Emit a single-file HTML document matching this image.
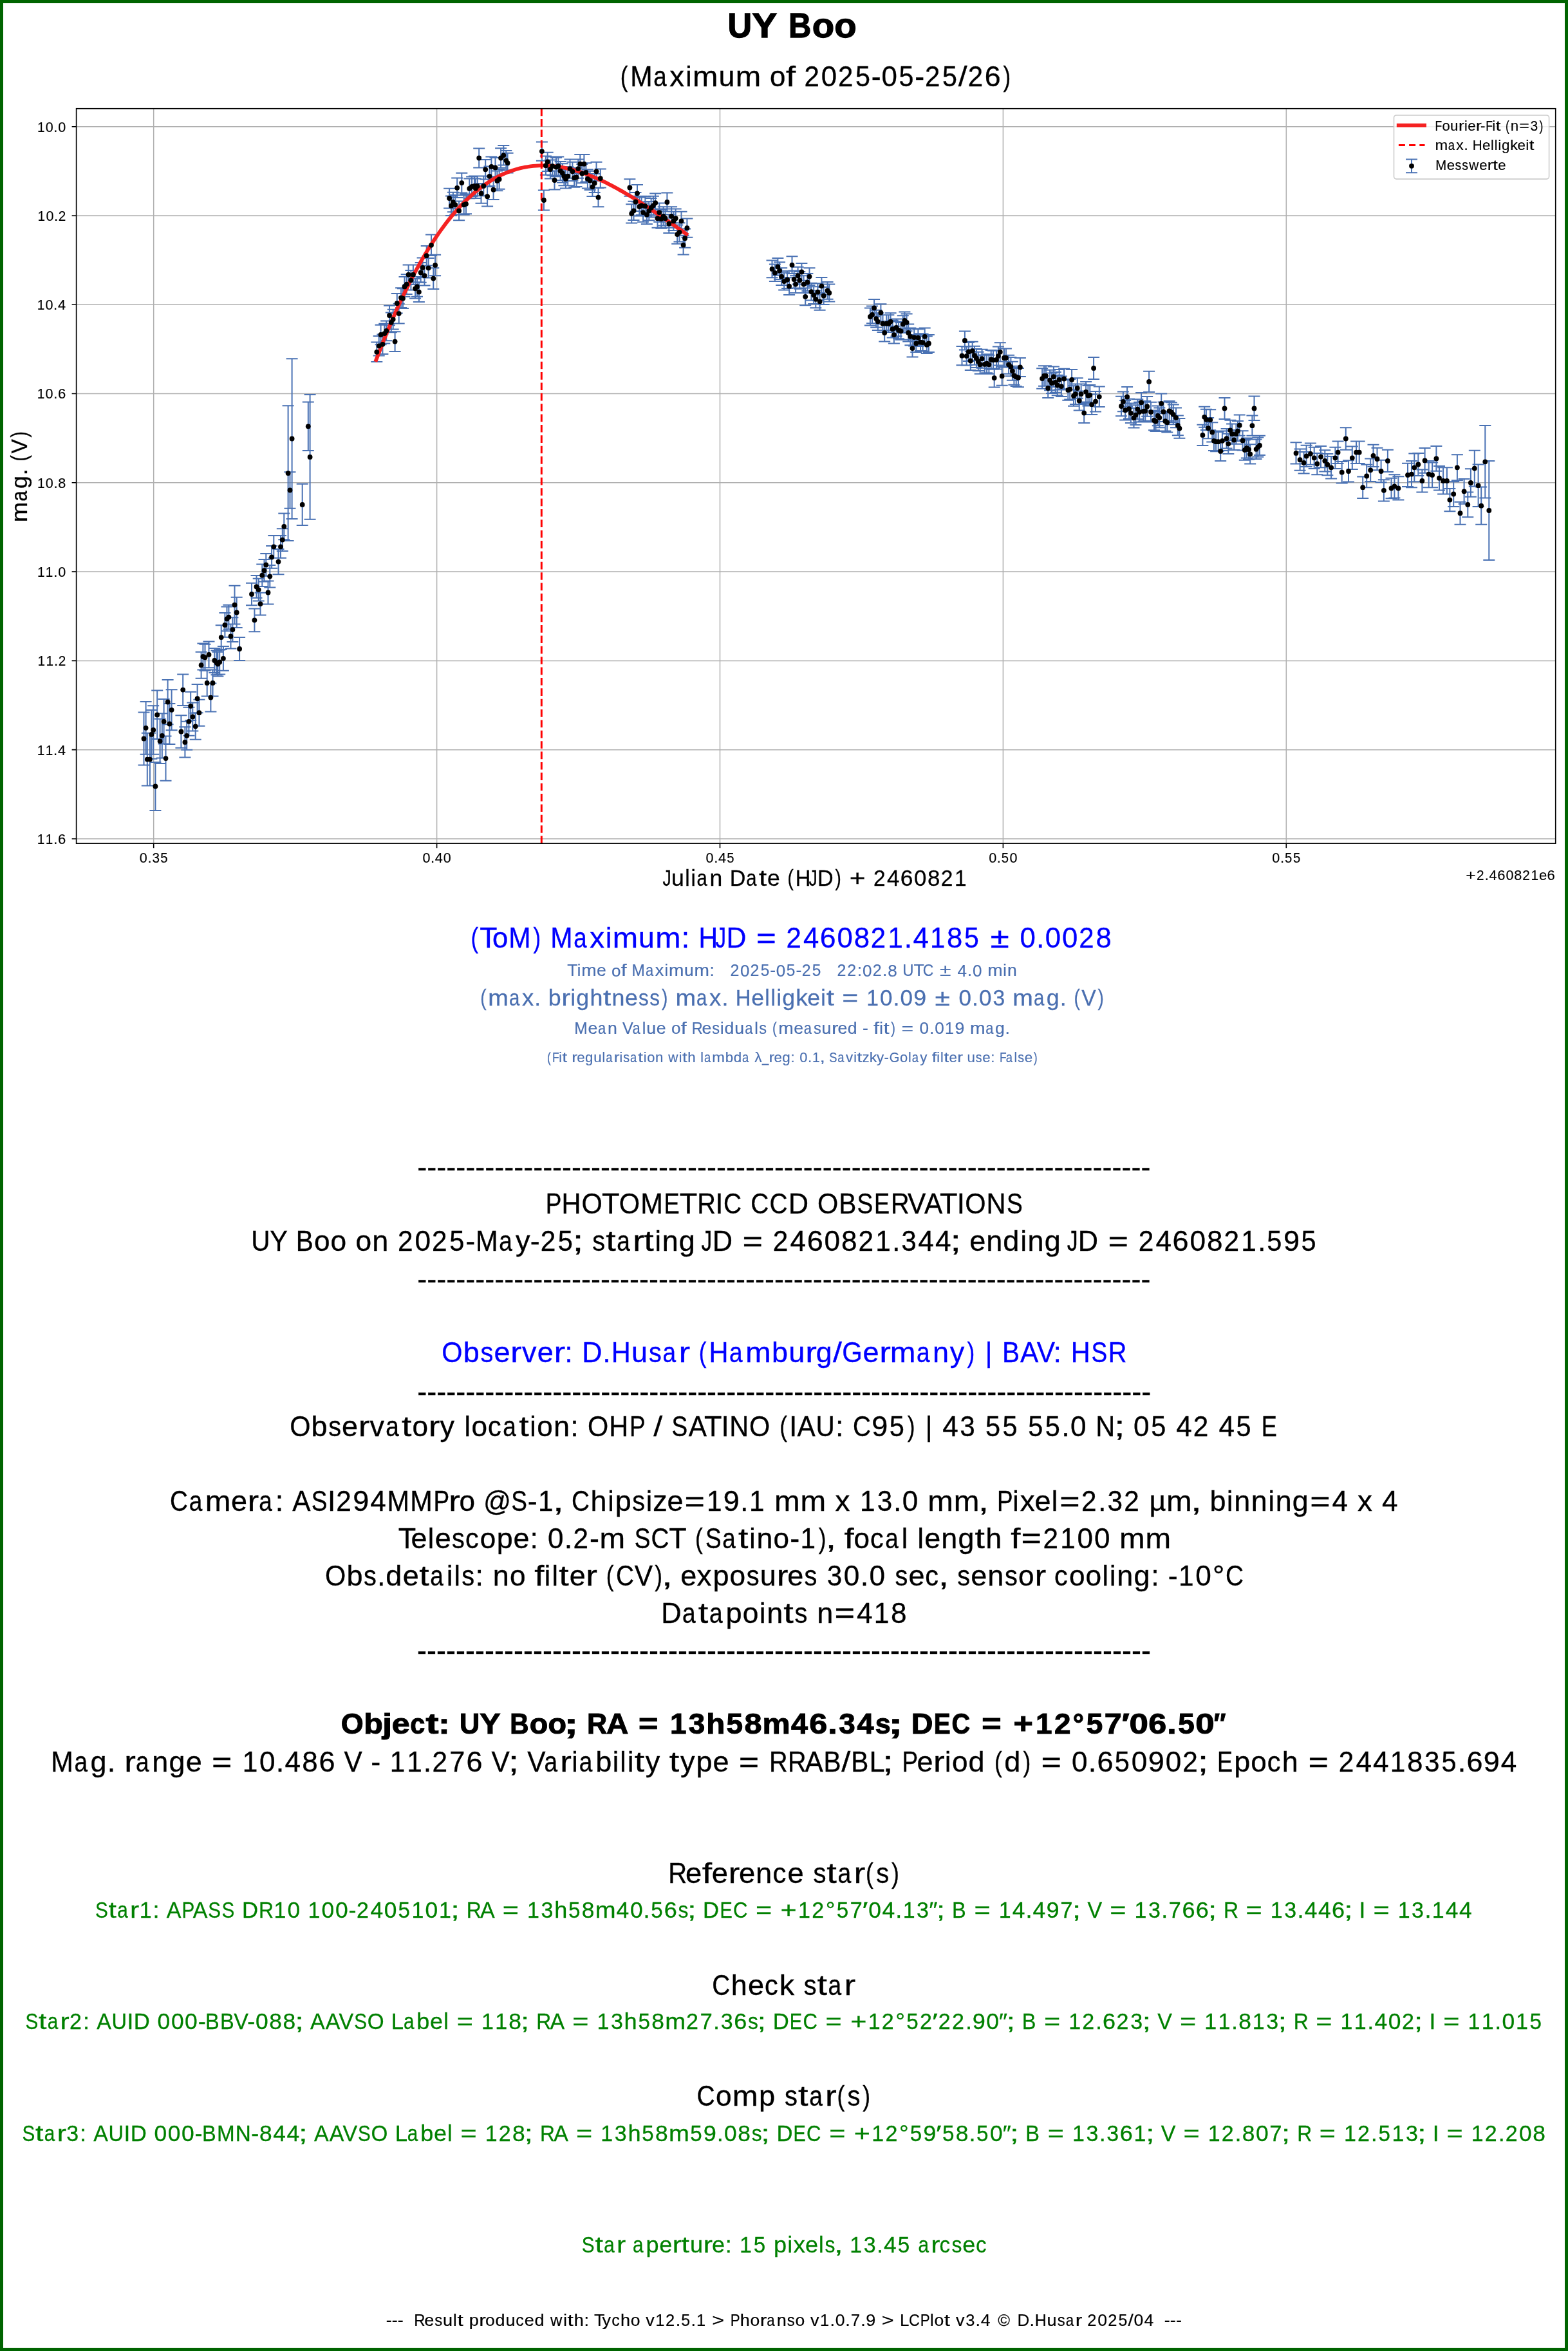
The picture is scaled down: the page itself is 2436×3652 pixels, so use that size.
<!DOCTYPE html><html><head><meta charset="utf-8"><style>html,body{margin:0;padding:0;background:#fff;width:2436px;height:3652px;overflow:hidden}svg{display:block;will-change:transform}text{font-family:"Liberation Sans",sans-serif;font-kerning:none;font-variant-ligatures:none}</style></head><body>
<svg width="2436" height="3652" viewBox="0 0 2436 3652">
<rect x="0" y="0" width="2436" height="3652" fill="#fff"/>
<path d="M238.70 168.70V1310.20M678.60 168.70V1310.20M1118.50 168.70V1310.20M1558.40 168.70V1310.20M1998.30 168.70V1310.20M118.60 196.70H2416.70M118.60 334.98H2416.70M118.60 473.26H2416.70M118.60 611.54H2416.70M118.60 749.82H2416.70M118.60 888.10H2416.70M118.60 1026.38H2416.70M118.60 1164.66H2416.70M118.60 1302.94H2416.70" stroke="#b0b0b0" stroke-width="1.5" fill="none"/>
<path d="M223.5 1106.6V1188.5M214.5 1106.6h18M214.5 1188.5h18M226.6 1089.9V1171.8M217.6 1089.9h18M217.6 1171.8h18M228.8 1138.7V1220.6M219.8 1138.7h18M219.8 1220.6h18M232.9 1138.7V1220.6M223.9 1138.7h18M223.9 1220.6h18M235.4 1103.1V1178.7M226.4 1103.1h18M226.4 1178.7h18M238.2 1096.2V1171.8M229.2 1096.2h18M229.2 1171.8h18M241.4 1184.0V1259.0M232.4 1184.0h18M232.4 1259.0h18M244.2 1072.6V1148.1M235.2 1072.6h18M235.2 1148.1h18M248.6 1116.7V1185.9M239.6 1116.7h18M239.6 1185.9h18M251.8 1108.2V1177.4M242.8 1108.2h18M242.8 1177.4h18M254.6 1086.1V1155.4M245.6 1086.1h18M245.6 1155.4h18M257.5 1143.4V1212.7M248.5 1143.4h18M248.5 1212.7h18M260.6 1055.9V1125.2M251.6 1055.9h18M251.6 1125.2h18M263.4 1093.0V1156.0M254.4 1093.0h18M254.4 1156.0h18M266.6 1071.3V1134.3M257.6 1071.3h18M257.6 1134.3h18M281.4 1111.3V1161.7M272.4 1111.3h18M272.4 1161.7h18M284.2 1047.4V1095.9M275.2 1047.4h18M275.2 1095.9h18M287.4 1129.3V1176.5M278.4 1129.3h18M278.4 1176.5h18M290.2 1120.8V1164.8M281.2 1120.8h18M281.2 1164.8h18M293.4 1098.7V1142.8M284.4 1098.7h18M284.4 1142.8h18M296.2 1074.8V1118.9M287.2 1074.8h18M287.2 1118.9h18M299.3 1091.5V1135.6M290.3 1091.5h18M290.3 1135.6h18M303.7 1107.8V1148.8M294.7 1107.8h18M294.7 1148.8h18M306.6 1063.1V1107.2M297.6 1063.1h18M297.6 1107.2h18M309.4 1086.8V1127.7M300.4 1086.8h18M300.4 1127.7h18M312.6 1012.8V1053.7M303.6 1012.8h18M303.6 1053.7h18M315.4 999.5V1040.5M306.4 999.5h18M306.4 1040.5h18M318.5 1000.8V1041.7M309.5 1000.8h18M309.5 1041.7h18M321.7 1040.5V1081.4M312.7 1040.5h18M312.7 1081.4h18M324.5 996.4V1037.3M315.5 996.4h18M315.5 1037.3h18M327.4 1061.6V1105.6M318.4 1061.6h18M318.4 1105.6h18M330.5 1040.5V1081.4M321.5 1040.5h18M321.5 1081.4h18M333.3 1007.1V1044.9M324.3 1007.1h18M324.3 1044.9h18M336.5 1010.6V1048.3M327.5 1010.6h18M327.5 1048.3h18M338.4 1012.8V1050.5M329.4 1012.8h18M329.4 1050.5h18M341.2 1009.6V1047.4M332.2 1009.6h18M332.2 1047.4h18M343.7 971.2V1009.0M334.7 971.2h18M334.7 1009.0h18M346.9 1003.9V1041.7M337.9 1003.9h18M337.9 1041.7h18M349.4 952.0V989.8M340.4 952.0h18M340.4 989.8h18M352.5 942.5V980.3M343.5 942.5h18M343.5 980.3h18M355.4 939.7V977.5M346.4 939.7h18M346.4 977.5h18M358.5 969.6V1007.4M349.5 969.6h18M349.5 1007.4h18M361.4 959.2V997.0M352.4 959.2h18M352.4 997.0h18M364.5 909.8V969.6M355.5 909.8h18M355.5 969.6h18M367.7 927.7V975.0M358.7 927.7h18M358.7 975.0h18M372.1 990.1V1026.0M363.1 990.1h18M363.1 1026.0h18M391.0 905.7V940.3M382.0 905.7h18M382.0 940.3h18M395.4 945.4V981.3M386.4 945.4h18M386.4 981.3h18M398.5 894.1V928.7M389.5 894.1h18M389.5 928.7h18M401.7 898.8V933.4M392.7 898.8h18M392.7 933.4h18M404.5 920.8V955.5M395.5 920.8h18M395.5 955.5h18M407.3 876.4V911.1M398.3 876.4h18M398.3 911.1h18M410.5 868.9V903.5M401.5 868.9h18M401.5 903.5h18M413.3 860.1V894.7M404.3 860.1h18M404.3 894.7h18M416.5 902.6V938.5M407.5 902.6h18M407.5 938.5h18M419.3 878.0V912.6M410.3 878.0h18M410.3 912.6h18M422.1 848.1V882.7M413.1 848.1h18M413.1 882.7h18M425.3 832.0V866.7M416.3 832.0h18M416.3 866.7h18M432.5 853.1V892.2M423.5 853.1h18M423.5 892.2h18M436.0 832.0V866.7M427.0 832.0h18M427.0 866.7h18M438.8 821.3V856.0M429.8 821.3h18M429.8 856.0h18M441.3 797.4V838.3M432.3 797.4h18M432.3 838.3h18M447.6 630.2V839.9M438.6 630.2h18M438.6 839.9h18M450.5 733.2V789.8M441.5 733.2h18M441.5 789.8h18M453.6 557.2V805.9M444.6 557.2h18M444.6 805.9h18M469.7 751.7V816.0M460.7 751.7h18M460.7 816.0h18M478.8 624.5V700.1M469.8 624.5h18M469.8 700.1h18M481.6 612.9V806.8M472.6 612.9h18M472.6 806.8h18M585.3 531.5V562.1M576.3 531.5h18M576.3 562.1h18M588.7 521.9V552.6M579.7 521.9h18M579.7 552.6h18M594.4 519.5V550.1M585.4 519.5h18M585.4 550.1h18M591.6 504.7V535.3M582.6 504.7h18M582.6 535.3h18M597.3 502.8V533.4M588.3 502.8h18M588.3 533.4h18M600.2 498.6V529.2M591.2 498.6h18M591.2 529.2h18M607.8 485.6V516.2M598.8 485.6h18M598.8 516.2h18M610.7 480.8V511.4M601.7 480.8h18M601.7 511.4h18M605.0 474.7V505.3M596.0 474.7h18M596.0 505.3h18M613.6 515.3V545.9M604.6 515.3h18M604.6 545.9h18M619.7 471.8V502.4M610.7 471.8h18M610.7 502.4h18M616.8 455.9V486.6M607.8 455.9h18M607.8 486.6h18M623.1 447.3V477.9M614.1 447.3h18M614.1 477.9h18M626.0 448.3V478.9M617.0 448.3h18M617.0 478.9h18M628.5 430.1V460.7M619.5 430.1h18M619.5 460.7h18M631.7 426.3V456.9M622.7 426.3h18M622.7 456.9h18M638.4 420.0V450.6M629.4 420.0h18M629.4 450.6h18M634.6 411.4V442.0M625.6 411.4h18M625.6 442.0h18M641.9 411.4V442.0M632.9 411.4h18M632.9 442.0h18M645.1 433.0V463.6M636.1 433.0h18M636.1 463.6h18M648.0 430.1V460.7M639.0 430.1h18M639.0 460.7h18M650.9 438.3V469.0M641.9 438.3h18M641.9 469.0h18M653.7 408.1V438.7M644.7 408.1h18M644.7 438.7h18M656.6 400.5V431.1M647.6 400.5h18M647.6 431.1h18M659.5 412.9V443.5M650.5 412.9h18M650.5 443.5h18M662.7 381.9V412.5M653.7 381.9h18M653.7 412.5h18M665.6 401.0V431.6M656.6 401.0h18M656.6 431.6h18M670.0 364.5V397.0M661.0 364.5h18M661.0 397.0h18M673.3 416.3V448.9M664.3 416.3h18M664.3 448.9h18M676.1 395.7V428.2M667.1 395.7h18M667.1 428.2h18M698.1 292.7V323.4M689.1 292.7h18M689.1 323.4h18M701.0 304.4V335.0M692.0 304.4h18M692.0 335.0h18M703.9 298.7V329.3M694.9 298.7h18M694.9 329.3h18M707.3 302.9V333.5M698.3 302.9h18M698.3 333.5h18M710.2 276.5V307.1M701.2 276.5h18M701.2 307.1h18M713.1 312.4V342.3M704.1 312.4h18M704.1 342.3h18M717.3 268.8V299.4M708.3 268.8h18M708.3 299.4h18M720.7 302.9V333.5M711.7 302.9h18M711.7 333.5h18M724.0 301.5V332.2M715.0 301.5h18M715.0 332.2h18M729.3 277.6V308.2M720.3 277.6h18M720.3 308.2h18M733.1 274.6V305.2M724.1 274.6h18M724.1 305.2h18M737.0 273.6V304.2M728.0 273.6h18M728.0 304.2h18M738.9 277.4V308.0M729.9 277.4h18M729.9 308.0h18M741.8 273.6V304.2M732.8 273.6h18M732.8 304.2h18M744.2 230.6V260.4M735.2 230.6h18M735.2 260.4h18M747.5 285.1V315.7M738.5 285.1h18M738.5 315.7h18M751.3 273.6V304.2M742.3 273.6h18M742.3 304.2h18M754.2 248.0V278.6M745.2 248.0h18M745.2 278.6h18M757.1 289.9V320.5M748.1 289.9h18M748.1 320.5h18M760.5 258.5V289.1M751.5 258.5h18M751.5 289.1h18M763.4 243.6V274.2M754.4 243.6h18M754.4 274.2h18M766.6 279.3V310.0M757.6 279.3h18M757.6 310.0h18M769.5 245.1V275.7M760.5 245.1h18M760.5 275.7h18M772.4 265.6V296.2M763.4 265.6h18M763.4 296.2h18M775.6 263.1V293.7M766.6 263.1h18M766.6 293.7h18M778.1 230.2V260.8M769.1 230.2h18M769.1 260.8h18M782.3 226.0V256.6M773.3 226.0h18M773.3 256.6h18M786.3 234.0V264.6M777.3 234.0h18M777.3 264.6h18M788.6 237.8V268.4M779.6 237.8h18M779.6 268.4h18M841.9 220.5V249.7M832.9 220.5h18M832.9 249.7h18M844.9 295.5V326.6M835.9 295.5h18M835.9 326.6h18M847.9 242.6V271.7M838.9 242.6h18M838.9 271.7h18M850.7 236.8V265.9M841.7 236.8h18M841.7 265.9h18M854.9 248.4V277.6M845.9 248.4h18M845.9 277.6h18M858.2 243.4V272.6M849.2 243.4h18M849.2 272.6h18M861.5 265.4V294.6M852.5 265.4h18M852.5 294.6h18M864.0 245.1V274.2M855.0 245.1h18M855.0 274.2h18M867.3 243.4V272.6M858.3 243.4h18M858.3 272.6h18M870.6 250.9V280.0M861.6 250.9h18M861.6 280.0h18M873.9 254.2V283.4M864.9 254.2h18M864.9 283.4h18M876.4 259.1V288.3M867.4 259.1h18M867.4 288.3h18M878.9 263.3V292.5M869.9 263.3h18M869.9 292.5h18M882.2 259.1V288.3M873.2 259.1h18M873.2 288.3h18M885.5 247.5V276.7M876.5 247.5h18M876.5 276.7h18M889.4 251.7V280.9M880.4 251.7h18M880.4 280.9h18M892.2 261.6V290.8M883.2 261.6h18M883.2 290.8h18M895.5 260.8V290.0M886.5 260.8h18M886.5 290.0h18M898.3 247.5V276.7M889.3 247.5h18M889.3 276.7h18M901.3 240.1V269.3M892.3 240.1h18M892.3 269.3h18M904.3 255.0V284.2M895.3 255.0h18M895.3 284.2h18M907.4 240.1V269.3M898.4 240.1h18M898.4 269.3h18M910.4 253.3V282.5M901.4 253.3h18M901.4 282.5h18M912.9 263.3V292.5M903.9 263.3h18M903.9 292.5h18M916.6 265.8V295.0M907.6 265.8h18M907.6 295.0h18M920.4 275.7V304.9M911.4 275.7h18M911.4 304.9h18M923.7 269.9V299.1M914.7 269.9h18M914.7 299.1h18M926.5 251.7V280.9M917.5 251.7h18M917.5 280.9h18M929.5 292.0V321.2M920.5 292.0h18M920.5 321.2h18M932.8 262.5V291.6M923.8 262.5h18M923.8 291.6h18M978.4 278.2V304.7M969.4 278.2h18M969.4 304.7h18M990.0 287.0V313.5M981.0 287.0h18M981.0 313.5h18M981.2 317.2V346.4M972.2 317.2h18M972.2 346.4h18M984.5 312.7V341.9M975.5 312.7h18M975.5 341.9h18M987.5 298.9V328.1M978.5 298.9h18M978.5 328.1h18M993.3 306.4V335.6M984.3 306.4h18M984.3 335.6h18M996.6 304.7V333.9M987.6 304.7h18M987.6 333.9h18M1002.4 305.6V334.8M993.4 305.6h18M993.4 334.8h18M999.1 315.5V344.7M990.1 315.5h18M990.1 344.7h18M1004.9 318.8V348.0M995.9 318.8h18M995.9 348.0h18M1008.3 313.0V342.2M999.3 313.0h18M999.3 342.2h18M1011.6 308.1V337.2M1002.6 308.1h18M1002.6 337.2h18M1014.9 304.7V333.9M1005.9 304.7h18M1005.9 333.9h18M1018.2 300.6V329.8M1009.2 300.6h18M1009.2 329.8h18M1021.5 324.6V353.8M1012.5 324.6h18M1012.5 353.8h18M1024.3 315.5V344.7M1015.3 315.5h18M1015.3 344.7h18M1027.3 325.5V354.7M1018.3 325.5h18M1018.3 354.7h18M1030.6 321.3V350.5M1021.6 321.3h18M1021.6 350.5h18M1033.6 324.6V353.8M1024.6 324.6h18M1024.6 353.8h18M1036.4 299.4V328.6M1027.4 299.4h18M1027.4 328.6h18M1039.3 332.9V362.1M1030.3 332.9h18M1030.3 362.1h18M1043.1 321.3V350.5M1034.1 321.3h18M1034.1 350.5h18M1046.4 328.8V358.0M1037.4 328.8h18M1037.4 358.0h18M1049.7 324.6V353.8M1040.7 324.6h18M1040.7 353.8h18M1052.2 349.5V378.7M1043.2 349.5h18M1043.2 378.7h18M1055.5 346.2V375.4M1046.5 346.2h18M1046.5 375.4h18M1058.5 328.8V358.0M1049.5 328.8h18M1049.5 358.0h18M1061.6 365.8V395.6M1052.6 365.8h18M1052.6 395.6h18M1064.1 355.6V384.8M1055.1 355.6h18M1055.1 384.8h18M1067.4 339.6V368.7M1058.4 339.6h18M1058.4 368.7h18M1199.5 404.6V431.3M1190.5 404.6h18M1190.5 431.3h18M1203.9 410.4V437.1M1194.9 410.4h18M1194.9 437.1h18M1208.4 401.0V427.8M1199.4 401.0h18M1199.4 427.8h18M1211.1 407.2V434.0M1202.1 407.2h18M1202.1 434.0h18M1214.2 416.2V442.9M1205.2 416.2h18M1205.2 442.9h18M1218.2 423.8V450.5M1209.2 423.8h18M1209.2 450.5h18M1223.1 421.1V447.9M1214.1 421.1h18M1214.1 447.9h18M1226.1 431.3V458.1M1217.1 431.3h18M1217.1 458.1h18M1230.5 398.3V425.1M1221.5 398.3h18M1221.5 425.1h18M1233.6 420.6V447.4M1224.6 420.6h18M1224.6 447.4h18M1236.1 428.2V455.0M1227.1 428.2h18M1227.1 455.0h18M1239.6 414.8V441.6M1230.6 414.8h18M1230.6 441.6h18M1242.3 422.0V448.8M1233.3 422.0h18M1233.3 448.8h18M1245.4 409.0V435.8M1236.4 409.0h18M1236.4 435.8h18M1248.6 428.2V455.0M1239.6 428.2h18M1239.6 455.0h18M1251.2 447.4V474.2M1242.2 447.4h18M1242.2 474.2h18M1254.4 425.1V451.9M1245.4 425.1h18M1245.4 451.9h18M1257.5 416.2V442.9M1248.5 416.2h18M1248.5 442.9h18M1260.4 439.8V466.6M1251.4 439.8h18M1251.4 466.6h18M1264.2 445.2V472.0M1255.2 445.2h18M1255.2 472.0h18M1267.3 451.4V478.2M1258.3 451.4h18M1258.3 478.2h18M1270.4 440.3V467.1M1261.4 440.3h18M1261.4 467.1h18M1273.6 455.0V481.8M1264.6 455.0h18M1264.6 481.8h18M1276.4 430.9V457.7M1267.4 430.9h18M1267.4 457.7h18M1279.6 446.1V472.9M1270.6 446.1h18M1270.6 472.9h18M1285.6 438.0V464.8M1276.6 438.0h18M1276.6 464.8h18M1288.3 441.6V468.4M1279.3 441.6h18M1279.3 468.4h18M1351.9 478.6V505.4M1342.9 478.6h18M1342.9 505.4h18M1355.0 475.4V502.2M1346.0 475.4h18M1346.0 502.2h18M1358.1 465.0V491.8M1349.1 465.0h18M1349.1 491.8h18M1361.2 481.7V508.5M1352.2 481.7h18M1352.2 508.5h18M1363.9 486.2V512.9M1354.9 486.2h18M1354.9 512.9h18M1368.4 472.3V499.1M1359.4 472.3h18M1359.4 499.1h18M1371.5 489.3V516.1M1362.5 489.3h18M1362.5 516.1h18M1374.2 503.6V530.4M1365.2 503.6h18M1365.2 530.4h18M1377.3 489.3V516.1M1368.3 489.3h18M1368.3 516.1h18M1380.4 489.3V516.1M1371.4 489.3h18M1371.4 516.1h18M1383.6 486.2V512.9M1374.6 486.2h18M1374.6 512.9h18M1386.7 497.8V524.6M1377.7 497.8h18M1377.7 524.6h18M1388.9 506.7V533.5M1379.9 506.7h18M1379.9 533.5h18M1392.5 495.5V522.3M1383.5 495.5h18M1383.5 522.3h18M1396.1 499.6V526.3M1387.1 499.6h18M1387.1 526.3h18M1399.6 500.9V527.7M1390.6 500.9h18M1390.6 527.7h18M1402.8 490.2V517.0M1393.8 490.2h18M1393.8 517.0h18M1405.4 484.4V511.2M1396.4 484.4h18M1396.4 511.2h18M1408.6 487.5V514.3M1399.6 487.5h18M1399.6 514.3h18M1411.2 503.6V530.4M1402.2 503.6h18M1402.2 530.4h18M1414.4 509.4V536.2M1405.4 509.4h18M1405.4 536.2h18M1417.5 527.7V554.5M1408.5 527.7h18M1408.5 554.5h18M1420.2 510.7V537.5M1411.2 510.7h18M1411.2 537.5h18M1423.3 520.1V546.9M1414.3 520.1h18M1414.3 546.9h18M1426.4 511.2V537.9M1417.4 511.2h18M1417.4 537.9h18M1430.0 518.3V545.1M1421.0 518.3h18M1421.0 545.1h18M1433.6 518.8V545.5M1424.6 518.8h18M1424.6 545.5h18M1436.7 509.4V536.2M1427.7 509.4h18M1427.7 536.2h18M1439.8 522.3V549.1M1430.8 522.3h18M1430.8 549.1h18M1442.9 520.1V546.9M1433.9 520.1h18M1433.9 546.9h18M1498.9 514.5V543.5M1489.9 514.5h18M1489.9 543.5h18M1494.5 538.1V567.2M1485.5 538.1h18M1485.5 567.2h18M1501.6 538.6V567.6M1492.6 538.6h18M1492.6 567.6h18M1504.9 531.9V560.9M1495.9 531.9h18M1495.9 560.9h18M1507.8 546.0V575.0M1498.8 546.0h18M1498.8 575.0h18M1510.7 530.7V559.7M1501.7 530.7h18M1501.7 559.7h18M1514.0 537.7V566.7M1505.0 537.7h18M1505.0 566.7h18M1516.9 541.9V570.9M1507.9 541.9h18M1507.9 570.9h18M1519.8 546.8V575.9M1510.8 546.8h18M1510.8 575.9h18M1522.7 551.8V580.8M1513.7 551.8h18M1513.7 580.8h18M1525.6 542.7V571.7M1516.6 542.7h18M1516.6 571.7h18M1529.8 551.4V580.4M1520.8 551.4h18M1520.8 580.4h18M1533.1 550.2V579.2M1524.1 550.2h18M1524.1 579.2h18M1536.4 551.8V580.8M1527.4 551.8h18M1527.4 580.8h18M1539.7 543.9V573.0M1530.7 543.9h18M1530.7 573.0h18M1543.0 544.8V573.8M1534.0 544.8h18M1534.0 573.8h18M1544.7 572.6V601.6M1535.7 572.6h18M1535.7 601.6h18M1548.0 544.4V573.4M1539.0 544.4h18M1539.0 573.4h18M1550.9 538.6V567.6M1541.9 538.6h18M1541.9 567.6h18M1553.8 532.3V561.4M1544.8 532.3h18M1544.8 561.4h18M1556.7 569.7V598.7M1547.7 569.7h18M1547.7 598.7h18M1560.0 541.5V570.5M1551.0 541.5h18M1551.0 570.5h18M1562.9 541.5V570.5M1553.9 541.5h18M1553.9 570.5h18M1567.1 551.8V580.8M1558.1 551.8h18M1558.1 580.8h18M1570.4 555.1V584.2M1561.4 555.1h18M1561.4 584.2h18M1572.9 561.8V590.8M1563.9 561.8h18M1563.9 590.8h18M1575.4 568.8V597.8M1566.4 568.8h18M1566.4 597.8h18M1578.7 570.9V599.9M1569.7 570.9h18M1569.7 599.9h18M1582.0 572.1V601.2M1573.0 572.1h18M1573.0 601.2h18M1584.9 556.0V585.0M1575.9 556.0h18M1575.9 585.0h18M1619.1 572.3V603.8M1610.1 572.3h18M1610.1 603.8h18M1622.0 568.2V599.7M1613.0 568.2h18M1613.0 599.7h18M1624.9 568.2V599.7M1615.9 568.2h18M1615.9 599.7h18M1628.2 588.1V617.9M1619.2 588.1h18M1619.2 617.9h18M1631.1 574.8V606.3M1622.1 574.8h18M1622.1 606.3h18M1634.0 579.4V610.9M1625.0 579.4h18M1625.0 610.9h18M1636.9 569.4V600.9M1627.9 569.4h18M1627.9 600.9h18M1639.8 578.1V609.7M1630.8 578.1h18M1630.8 609.7h18M1642.7 582.7V614.2M1633.7 582.7h18M1633.7 614.2h18M1645.6 574.0V605.5M1636.6 574.0h18M1636.6 605.5h18M1648.9 584.4V615.9M1639.9 584.4h18M1639.9 615.9h18M1653.1 572.8V604.3M1644.1 572.8h18M1644.1 604.3h18M1659.3 590.2V621.7M1650.3 590.2h18M1650.3 621.7h18M1662.2 588.9V620.4M1653.2 588.9h18M1653.2 620.4h18M1665.1 574.0V605.5M1656.1 574.0h18M1656.1 605.5h18M1668.0 599.3V630.8M1659.0 599.3h18M1659.0 630.8h18M1670.9 596.4V627.9M1661.9 596.4h18M1661.9 627.9h18M1673.8 587.3V618.8M1664.8 587.3h18M1664.8 618.8h18M1676.7 607.6V637.4M1667.7 607.6h18M1667.7 637.4h18M1679.6 596.4V627.9M1670.6 596.4h18M1670.6 627.9h18M1684.2 626.2V656.9M1675.2 626.2h18M1675.2 656.9h18M1687.1 593.1V624.6M1678.1 593.1h18M1678.1 624.6h18M1690.4 598.9V630.4M1681.4 598.9h18M1681.4 630.4h18M1693.3 598.0V629.6M1684.3 598.0h18M1684.3 629.6h18M1696.2 612.6V644.1M1687.2 612.6h18M1687.2 644.1h18M1699.1 554.9V588.9M1690.1 554.9h18M1690.1 588.9h18M1702.0 608.0V639.5M1693.0 608.0h18M1693.0 639.5h18M1707.8 600.5V632.0M1698.8 600.5h18M1698.8 632.0h18M1742.0 615.7V646.3M1733.0 615.7h18M1733.0 646.3h18M1744.9 608.6V639.3M1735.9 608.6h18M1735.9 639.3h18M1748.2 621.9V652.6M1739.2 621.9h18M1739.2 652.6h18M1751.1 601.1V631.8M1742.1 601.1h18M1742.1 631.8h18M1754.0 619.8V650.5M1745.0 619.8h18M1745.0 650.5h18M1756.9 626.4V657.1M1747.9 626.4h18M1747.9 657.1h18M1761.5 633.9V664.6M1752.5 633.9h18M1752.5 664.6h18M1764.4 629.3V660.0M1755.4 629.3h18M1755.4 660.0h18M1767.3 620.2V650.9M1758.3 620.2h18M1758.3 650.9h18M1770.2 624.8V655.5M1761.2 624.8h18M1761.2 655.5h18M1773.1 609.9V640.5M1764.1 609.9h18M1764.1 640.5h18M1776.4 623.5V654.2M1767.4 623.5h18M1767.4 654.2h18M1779.3 623.1V653.8M1770.3 623.1h18M1770.3 653.8h18M1782.2 616.1V646.7M1773.2 616.1h18M1773.2 646.7h18M1785.1 576.7V609.0M1776.1 576.7h18M1776.1 609.0h18M1788.0 624.8V655.5M1779.0 624.8h18M1779.0 655.5h18M1793.0 637.6V668.3M1784.0 637.6h18M1784.0 668.3h18M1795.5 639.3V670.0M1786.5 639.3h18M1786.5 670.0h18M1798.8 630.6V661.3M1789.8 630.6h18M1789.8 661.3h18M1801.3 633.5V664.2M1792.3 633.5h18M1792.3 664.2h18M1804.2 611.5V642.2M1795.2 611.5h18M1795.2 642.2h18M1807.5 624.4V655.0M1798.5 624.4h18M1798.5 655.0h18M1810.4 638.9V669.6M1801.4 638.9h18M1801.4 669.6h18M1813.3 640.9V671.6M1804.3 640.9h18M1804.3 671.6h18M1816.6 623.1V653.8M1807.6 623.1h18M1807.6 653.8h18M1819.9 625.2V655.9M1810.9 625.2h18M1810.9 655.9h18M1822.8 628.5V659.2M1813.8 628.5h18M1813.8 659.2h18M1827.0 633.5V664.2M1818.0 633.5h18M1818.0 664.2h18M1829.9 645.5V676.2M1820.9 645.5h18M1820.9 676.2h18M1832.4 650.1V680.7M1823.4 650.1h18M1823.4 680.7h18M1868.4 659.8V692.0M1859.4 659.8h18M1859.4 692.0h18M1871.2 631.7V663.8M1862.2 631.7h18M1862.2 663.8h18M1873.9 635.7V667.9M1864.9 635.7h18M1864.9 667.9h18M1877.1 649.1V681.2M1868.1 649.1h18M1868.1 681.2h18M1880.2 636.2V668.3M1871.2 636.2h18M1871.2 668.3h18M1883.3 656.2V686.6M1874.3 656.2h18M1874.3 686.6h18M1886.0 669.6V700.0M1877.0 669.6h18M1877.0 700.0h18M1889.1 671.0V701.3M1880.1 671.0h18M1880.1 701.3h18M1892.7 671.0V701.3M1883.7 671.0h18M1883.7 701.3h18M1896.2 685.7V716.1M1887.2 685.7h18M1887.2 716.1h18M1898.9 669.6V700.0M1889.9 669.6h18M1889.9 700.0h18M1902.5 617.9V650.9M1893.5 617.9h18M1893.5 650.9h18M1905.6 666.1V696.4M1896.6 666.1h18M1896.6 696.4h18M1908.3 673.7V704.9M1899.3 673.7h18M1899.3 704.9h18M1911.4 652.7V683.9M1902.4 652.7h18M1902.4 683.9h18M1914.1 658.5V689.7M1905.1 658.5h18M1905.1 689.7h18M1917.2 667.9V699.1M1908.2 667.9h18M1908.2 699.1h18M1920.4 658.5V689.7M1911.4 658.5h18M1911.4 689.7h18M1923.0 654.0V685.3M1914.0 654.0h18M1914.0 685.3h18M1925.7 644.6V676.8M1916.7 644.6h18M1916.7 676.8h18M1930.6 669.2V699.6M1921.6 669.2h18M1921.6 699.6h18M1933.8 683.5V714.7M1924.8 683.5h18M1924.8 714.7h18M1936.9 680.4V711.6M1927.9 680.4h18M1927.9 711.6h18M1940.0 682.6V713.8M1931.0 682.6h18M1931.0 713.8h18M1942.2 690.2V720.5M1933.2 690.2h18M1933.2 720.5h18M1945.4 645.5V676.8M1936.4 645.5h18M1936.4 676.8h18M1948.5 615.6V653.1M1939.5 615.6h18M1939.5 653.1h18M1951.6 682.6V712.9M1942.6 682.6h18M1942.6 712.9h18M1954.3 679.5V709.8M1945.3 679.5h18M1945.3 709.8h18M1957.0 676.8V707.1M1948.0 676.8h18M1948.0 707.1h18M2013.5 687.2V720.5M2004.5 687.2h18M2004.5 720.5h18M2019.6 697.6V730.8M2010.6 697.6h18M2010.6 730.8h18M2025.6 702.1V735.4M2016.6 702.1h18M2016.6 735.4h18M2029.6 691.8V725.1M2020.6 691.8h18M2020.6 725.1h18M2035.9 688.4V721.7M2026.9 688.4h18M2026.9 721.7h18M2041.7 694.7V728.0M2032.7 694.7h18M2032.7 728.0h18M2046.3 703.9V737.2M2037.3 703.9h18M2037.3 737.2h18M2052.0 693.0V726.3M2043.0 693.0h18M2043.0 726.3h18M2058.3 699.3V732.6M2049.3 699.3h18M2049.3 732.6h18M2062.3 705.0V738.3M2053.3 705.0h18M2053.3 738.3h18M2068.1 709.0V743.5M2059.1 709.0h18M2059.1 743.5h18M2074.4 694.7V728.0M2065.4 694.7h18M2065.4 728.0h18M2078.6 685.5V719.9M2069.6 685.5h18M2069.6 719.9h18M2084.7 717.1V750.4M2075.7 717.1h18M2075.7 750.4h18M2090.8 664.3V698.7M2081.8 664.3h18M2081.8 698.7h18M2095.0 715.3V748.6M2086.0 715.3h18M2086.0 748.6h18M2100.8 693.5V729.1M2091.8 693.5h18M2091.8 729.1h18M2107.1 685.5V719.9M2098.1 685.5h18M2098.1 719.9h18M2111.7 685.5V719.9M2102.7 685.5h18M2102.7 719.9h18M2117.2 740.6V773.9M2108.2 740.6h18M2108.2 773.9h18M2123.2 721.7V757.2M2114.2 721.7h18M2114.2 757.2h18M2129.2 712.5V748.1M2120.2 712.5h18M2120.2 748.1h18M2133.5 690.7V725.1M2124.5 690.7h18M2124.5 725.1h18M2139.5 695.8V730.3M2130.5 695.8h18M2130.5 730.3h18M2145.6 714.8V749.2M2136.6 714.8h18M2136.6 749.2h18M2149.9 745.2V778.5M2140.9 745.2h18M2140.9 778.5h18M2155.9 698.7V733.1M2146.9 698.7h18M2146.9 733.1h18M2161.5 742.7V774.2M2152.5 742.7h18M2152.5 774.2h18M2166.4 737.2V773.6M2157.4 737.2h18M2157.4 773.6h18M2172.4 740.3V776.6M2163.4 740.3h18M2163.4 776.6h18M2187.0 719.7V756.0M2178.0 719.7h18M2178.0 756.0h18M2193.0 716.0V757.2M2184.0 716.0h18M2184.0 757.2h18M2197.3 704.5V748.2M2188.3 704.5h18M2188.3 748.2h18M2203.3 703.9V739.1M2194.3 703.9h18M2194.3 739.1h18M2209.4 729.4V764.5M2200.4 729.4h18M2200.4 764.5h18M2213.6 696.0V734.8M2204.6 696.0h18M2204.6 734.8h18M2219.7 716.0V757.2M2210.7 716.0h18M2210.7 757.2h18M2225.1 718.5V757.2M2216.1 718.5h18M2216.1 757.2h18M2231.4 693.0V731.8M2222.4 693.0h18M2222.4 731.8h18M2236.0 723.9V761.5M2227.0 723.9h18M2227.0 761.5h18M2242.1 726.3V767.5M2233.1 726.3h18M2233.1 767.5h18M2247.9 726.3V767.5M2238.9 726.3h18M2238.9 767.5h18M2252.4 759.1V794.2M2243.4 759.1h18M2243.4 794.2h18M2258.2 748.2V786.9M2249.2 748.2h18M2249.2 786.9h18M2263.9 706.3V746.3M2254.9 706.3h18M2254.9 746.3h18M2268.5 779.7V814.8M2259.5 779.7h18M2259.5 814.8h18M2274.6 743.9V782.7M2265.6 743.9h18M2265.6 782.7h18M2280.3 764.5V803.3M2271.3 764.5h18M2271.3 803.3h18M2284.9 728.2V771.8M2275.9 728.2h18M2275.9 771.8h18M2290.8 699.7V755.4M2281.8 699.7h18M2281.8 755.4h18M2296.6 721.5V786.9M2287.6 721.5h18M2287.6 786.9h18M2301.2 756.6V814.8M2292.2 756.6h18M2292.2 814.8h18M2307.3 660.9V773.6M2298.3 660.9h18M2298.3 773.6h18M2313.3 716.0V869.9M2304.3 716.0h18M2304.3 869.9h18" stroke="#4a72b4" stroke-width="2" fill="none"/>
<path d="M583.3 561.9 L587.4 551.1 L591.5 540.6 L595.5 530.2 L599.6 520.1 L603.7 510.2 L607.8 500.5 L611.9 491.1 L615.9 481.9 L620.0 472.9 L624.1 464.1 L628.2 455.5 L632.3 447.2 L636.3 439.0 L640.4 431.1 L644.5 423.4 L648.6 415.8 L652.7 408.5 L656.7 401.4 L660.8 394.5 L664.9 387.8 L669.0 381.3 L673.1 374.9 L677.1 368.8 L681.2 362.8 L685.3 357.1 L689.4 351.5 L693.5 346.1 L697.5 340.9 L701.6 335.9 L705.7 331.0 L709.8 326.3 L713.9 321.8 L717.9 317.5 L722.0 313.3 L726.1 309.3 L730.2 305.5 L734.3 301.8 L738.3 298.3 L742.4 295.0 L746.5 291.8 L750.6 288.8 L754.7 285.9 L758.7 283.1 L762.8 280.6 L766.9 278.1 L771.0 275.8 L775.1 273.7 L779.1 271.7 L783.2 269.8 L787.3 268.1 L791.4 266.5 L795.5 265.0 L799.5 263.7 L803.6 262.5 L807.7 261.4 L811.8 260.5 L815.9 259.7 L819.9 259.0 L824.0 258.4 L828.1 257.9 L832.2 257.6 L836.2 257.3 L840.3 257.2 L844.4 257.2 L848.5 257.3 L852.6 257.5 L856.6 257.8 L860.7 258.2 L864.8 258.7 L868.9 259.3 L873.0 259.9 L877.0 260.7 L881.1 261.6 L885.2 262.6 L889.3 263.6 L893.4 264.7 L897.4 266.0 L901.5 267.3 L905.6 268.6 L909.7 270.1 L913.8 271.6 L917.8 273.2 L921.9 274.9 L926.0 276.6 L930.1 278.4 L934.2 280.3 L938.2 282.2 L942.3 284.2 L946.4 286.3 L950.5 288.4 L954.6 290.6 L958.6 292.8 L962.7 295.1 L966.8 297.4 L970.9 299.7 L975.0 302.2 L979.0 304.6 L983.1 307.1 L987.2 309.6 L991.3 312.2 L995.4 314.8 L999.4 317.4 L1003.5 320.1 L1007.6 322.8 L1011.7 325.5 L1015.8 328.3 L1019.8 331.0 L1023.9 333.8 L1028.0 336.6 L1032.1 339.5 L1036.2 342.3 L1040.2 345.2 L1044.3 348.0 L1048.4 350.9 L1052.5 353.8 L1056.6 356.7 L1060.6 359.5 L1064.7 362.4 L1068.8 365.3" stroke="#f52222" stroke-width="5.8" fill="none" stroke-linecap="butt"/>
<line x1="841.3" y1="1310.2" x2="841.3" y2="168.7" stroke="#ff0000" stroke-width="3" stroke-dasharray="11.6 4.776"/>
<g fill="#000"><circle cx="223.5" cy="1147.5" r="3.9"/><circle cx="226.6" cy="1130.8" r="3.9"/><circle cx="228.8" cy="1179.6" r="3.9"/><circle cx="232.9" cy="1179.6" r="3.9"/><circle cx="235.4" cy="1140.9" r="3.9"/><circle cx="238.2" cy="1134.0" r="3.9"/><circle cx="241.4" cy="1221.5" r="3.9"/><circle cx="244.2" cy="1110.4" r="3.9"/><circle cx="248.6" cy="1151.3" r="3.9"/><circle cx="251.8" cy="1142.8" r="3.9"/><circle cx="254.6" cy="1120.8" r="3.9"/><circle cx="257.5" cy="1178.1" r="3.9"/><circle cx="260.6" cy="1090.5" r="3.9"/><circle cx="263.4" cy="1124.5" r="3.9"/><circle cx="266.6" cy="1102.8" r="3.9"/><circle cx="281.4" cy="1136.5" r="3.9"/><circle cx="284.2" cy="1071.6" r="3.9"/><circle cx="287.4" cy="1152.9" r="3.9"/><circle cx="290.2" cy="1142.8" r="3.9"/><circle cx="293.4" cy="1120.8" r="3.9"/><circle cx="296.2" cy="1096.8" r="3.9"/><circle cx="299.3" cy="1113.5" r="3.9"/><circle cx="303.7" cy="1128.3" r="3.9"/><circle cx="306.6" cy="1085.2" r="3.9"/><circle cx="309.4" cy="1107.2" r="3.9"/><circle cx="312.6" cy="1033.2" r="3.9"/><circle cx="315.4" cy="1020.0" r="3.9"/><circle cx="318.5" cy="1021.3" r="3.9"/><circle cx="321.7" cy="1060.9" r="3.9"/><circle cx="324.5" cy="1016.9" r="3.9"/><circle cx="327.4" cy="1083.6" r="3.9"/><circle cx="330.5" cy="1060.9" r="3.9"/><circle cx="333.3" cy="1026.0" r="3.9"/><circle cx="336.5" cy="1029.4" r="3.9"/><circle cx="338.4" cy="1031.6" r="3.9"/><circle cx="341.2" cy="1028.5" r="3.9"/><circle cx="343.7" cy="990.1" r="3.9"/><circle cx="346.9" cy="1022.8" r="3.9"/><circle cx="349.4" cy="970.9" r="3.9"/><circle cx="352.5" cy="961.4" r="3.9"/><circle cx="355.4" cy="958.6" r="3.9"/><circle cx="358.5" cy="988.5" r="3.9"/><circle cx="361.4" cy="978.1" r="3.9"/><circle cx="364.5" cy="939.7" r="3.9"/><circle cx="367.7" cy="951.4" r="3.9"/><circle cx="372.1" cy="1008.0" r="3.9"/><circle cx="391.0" cy="923.0" r="3.9"/><circle cx="395.4" cy="963.3" r="3.9"/><circle cx="398.5" cy="911.4" r="3.9"/><circle cx="401.7" cy="916.1" r="3.9"/><circle cx="404.5" cy="938.1" r="3.9"/><circle cx="407.3" cy="893.7" r="3.9"/><circle cx="410.5" cy="886.2" r="3.9"/><circle cx="413.3" cy="877.4" r="3.9"/><circle cx="416.5" cy="920.5" r="3.9"/><circle cx="419.3" cy="895.3" r="3.9"/><circle cx="422.1" cy="865.4" r="3.9"/><circle cx="425.3" cy="849.3" r="3.9"/><circle cx="432.5" cy="872.6" r="3.9"/><circle cx="436.0" cy="849.3" r="3.9"/><circle cx="438.8" cy="838.6" r="3.9"/><circle cx="441.3" cy="817.9" r="3.9"/><circle cx="447.6" cy="735.1" r="3.9"/><circle cx="450.5" cy="761.5" r="3.9"/><circle cx="453.6" cy="681.5" r="3.9"/><circle cx="469.7" cy="783.9" r="3.9"/><circle cx="478.8" cy="662.3" r="3.9"/><circle cx="481.6" cy="709.9" r="3.9"/><circle cx="585.3" cy="546.8" r="3.9"/><circle cx="588.7" cy="537.3" r="3.9"/><circle cx="594.4" cy="534.8" r="3.9"/><circle cx="591.6" cy="520.0" r="3.9"/><circle cx="597.3" cy="518.1" r="3.9"/><circle cx="600.2" cy="513.9" r="3.9"/><circle cx="607.8" cy="500.9" r="3.9"/><circle cx="610.7" cy="496.1" r="3.9"/><circle cx="605.0" cy="490.0" r="3.9"/><circle cx="613.6" cy="530.6" r="3.9"/><circle cx="619.7" cy="487.1" r="3.9"/><circle cx="616.8" cy="471.2" r="3.9"/><circle cx="623.1" cy="462.6" r="3.9"/><circle cx="626.0" cy="463.6" r="3.9"/><circle cx="628.5" cy="445.4" r="3.9"/><circle cx="631.7" cy="441.6" r="3.9"/><circle cx="638.4" cy="435.3" r="3.9"/><circle cx="634.6" cy="426.7" r="3.9"/><circle cx="641.9" cy="426.7" r="3.9"/><circle cx="645.1" cy="448.3" r="3.9"/><circle cx="648.0" cy="445.4" r="3.9"/><circle cx="650.9" cy="453.6" r="3.9"/><circle cx="653.7" cy="423.4" r="3.9"/><circle cx="656.6" cy="415.8" r="3.9"/><circle cx="659.5" cy="428.2" r="3.9"/><circle cx="662.7" cy="397.2" r="3.9"/><circle cx="665.6" cy="416.3" r="3.9"/><circle cx="670.0" cy="380.8" r="3.9"/><circle cx="673.3" cy="432.6" r="3.9"/><circle cx="676.1" cy="411.9" r="3.9"/><circle cx="698.1" cy="308.0" r="3.9"/><circle cx="701.0" cy="319.7" r="3.9"/><circle cx="703.9" cy="314.0" r="3.9"/><circle cx="707.3" cy="318.2" r="3.9"/><circle cx="710.2" cy="291.8" r="3.9"/><circle cx="713.1" cy="327.4" r="3.9"/><circle cx="717.3" cy="284.1" r="3.9"/><circle cx="720.7" cy="318.2" r="3.9"/><circle cx="724.0" cy="316.8" r="3.9"/><circle cx="729.3" cy="292.9" r="3.9"/><circle cx="733.1" cy="289.9" r="3.9"/><circle cx="737.0" cy="288.9" r="3.9"/><circle cx="738.9" cy="292.7" r="3.9"/><circle cx="741.8" cy="288.9" r="3.9"/><circle cx="744.2" cy="245.5" r="3.9"/><circle cx="747.5" cy="300.4" r="3.9"/><circle cx="751.3" cy="288.9" r="3.9"/><circle cx="754.2" cy="263.3" r="3.9"/><circle cx="757.1" cy="305.2" r="3.9"/><circle cx="760.5" cy="273.8" r="3.9"/><circle cx="763.4" cy="258.9" r="3.9"/><circle cx="766.6" cy="294.7" r="3.9"/><circle cx="769.5" cy="260.4" r="3.9"/><circle cx="772.4" cy="280.9" r="3.9"/><circle cx="775.6" cy="278.4" r="3.9"/><circle cx="778.1" cy="245.5" r="3.9"/><circle cx="782.3" cy="241.3" r="3.9"/><circle cx="786.3" cy="249.3" r="3.9"/><circle cx="788.6" cy="253.1" r="3.9"/><circle cx="841.9" cy="235.1" r="3.9"/><circle cx="844.9" cy="311.0" r="3.9"/><circle cx="847.9" cy="257.2" r="3.9"/><circle cx="850.7" cy="251.4" r="3.9"/><circle cx="854.9" cy="263.0" r="3.9"/><circle cx="858.2" cy="258.0" r="3.9"/><circle cx="861.5" cy="280.0" r="3.9"/><circle cx="864.0" cy="259.6" r="3.9"/><circle cx="867.3" cy="258.0" r="3.9"/><circle cx="870.6" cy="265.4" r="3.9"/><circle cx="873.9" cy="268.8" r="3.9"/><circle cx="876.4" cy="273.7" r="3.9"/><circle cx="878.9" cy="277.9" r="3.9"/><circle cx="882.2" cy="273.7" r="3.9"/><circle cx="885.5" cy="262.1" r="3.9"/><circle cx="889.4" cy="266.3" r="3.9"/><circle cx="892.2" cy="276.2" r="3.9"/><circle cx="895.5" cy="275.4" r="3.9"/><circle cx="898.3" cy="262.1" r="3.9"/><circle cx="901.3" cy="254.7" r="3.9"/><circle cx="904.3" cy="269.6" r="3.9"/><circle cx="907.4" cy="254.7" r="3.9"/><circle cx="910.4" cy="267.9" r="3.9"/><circle cx="912.9" cy="277.9" r="3.9"/><circle cx="916.6" cy="280.4" r="3.9"/><circle cx="920.4" cy="290.3" r="3.9"/><circle cx="923.7" cy="284.5" r="3.9"/><circle cx="926.5" cy="266.3" r="3.9"/><circle cx="929.5" cy="306.6" r="3.9"/><circle cx="932.8" cy="277.1" r="3.9"/><circle cx="978.4" cy="291.5" r="3.9"/><circle cx="990.0" cy="300.3" r="3.9"/><circle cx="981.2" cy="331.8" r="3.9"/><circle cx="984.5" cy="327.3" r="3.9"/><circle cx="987.5" cy="313.5" r="3.9"/><circle cx="993.3" cy="321.0" r="3.9"/><circle cx="996.6" cy="319.3" r="3.9"/><circle cx="1002.4" cy="320.2" r="3.9"/><circle cx="999.1" cy="330.1" r="3.9"/><circle cx="1004.9" cy="333.4" r="3.9"/><circle cx="1008.3" cy="327.6" r="3.9"/><circle cx="1011.6" cy="322.7" r="3.9"/><circle cx="1014.9" cy="319.3" r="3.9"/><circle cx="1018.2" cy="315.2" r="3.9"/><circle cx="1021.5" cy="339.2" r="3.9"/><circle cx="1024.3" cy="330.1" r="3.9"/><circle cx="1027.3" cy="340.1" r="3.9"/><circle cx="1030.6" cy="335.9" r="3.9"/><circle cx="1033.6" cy="339.2" r="3.9"/><circle cx="1036.4" cy="314.0" r="3.9"/><circle cx="1039.3" cy="347.5" r="3.9"/><circle cx="1043.1" cy="335.9" r="3.9"/><circle cx="1046.4" cy="343.4" r="3.9"/><circle cx="1049.7" cy="339.2" r="3.9"/><circle cx="1052.2" cy="364.1" r="3.9"/><circle cx="1055.5" cy="360.8" r="3.9"/><circle cx="1058.5" cy="343.4" r="3.9"/><circle cx="1061.6" cy="380.7" r="3.9"/><circle cx="1064.1" cy="370.2" r="3.9"/><circle cx="1067.4" cy="354.2" r="3.9"/><circle cx="1199.5" cy="417.9" r="3.9"/><circle cx="1203.9" cy="423.8" r="3.9"/><circle cx="1208.4" cy="414.4" r="3.9"/><circle cx="1211.1" cy="420.6" r="3.9"/><circle cx="1214.2" cy="429.6" r="3.9"/><circle cx="1218.2" cy="437.1" r="3.9"/><circle cx="1223.1" cy="434.5" r="3.9"/><circle cx="1226.1" cy="444.7" r="3.9"/><circle cx="1230.5" cy="411.7" r="3.9"/><circle cx="1233.6" cy="434.0" r="3.9"/><circle cx="1236.1" cy="441.6" r="3.9"/><circle cx="1239.6" cy="428.2" r="3.9"/><circle cx="1242.3" cy="435.4" r="3.9"/><circle cx="1245.4" cy="422.4" r="3.9"/><circle cx="1248.6" cy="441.6" r="3.9"/><circle cx="1251.2" cy="460.8" r="3.9"/><circle cx="1254.4" cy="438.5" r="3.9"/><circle cx="1257.5" cy="429.6" r="3.9"/><circle cx="1260.4" cy="453.2" r="3.9"/><circle cx="1264.2" cy="458.6" r="3.9"/><circle cx="1267.3" cy="464.8" r="3.9"/><circle cx="1270.4" cy="453.7" r="3.9"/><circle cx="1273.6" cy="468.4" r="3.9"/><circle cx="1276.4" cy="444.3" r="3.9"/><circle cx="1279.6" cy="459.5" r="3.9"/><circle cx="1285.6" cy="451.4" r="3.9"/><circle cx="1288.3" cy="455.0" r="3.9"/><circle cx="1351.9" cy="492.0" r="3.9"/><circle cx="1355.0" cy="488.8" r="3.9"/><circle cx="1358.1" cy="478.4" r="3.9"/><circle cx="1361.2" cy="495.1" r="3.9"/><circle cx="1363.9" cy="499.6" r="3.9"/><circle cx="1368.4" cy="485.7" r="3.9"/><circle cx="1371.5" cy="502.7" r="3.9"/><circle cx="1374.2" cy="517.0" r="3.9"/><circle cx="1377.3" cy="502.7" r="3.9"/><circle cx="1380.4" cy="502.7" r="3.9"/><circle cx="1383.6" cy="499.6" r="3.9"/><circle cx="1386.7" cy="511.2" r="3.9"/><circle cx="1388.9" cy="520.1" r="3.9"/><circle cx="1392.5" cy="508.9" r="3.9"/><circle cx="1396.1" cy="512.9" r="3.9"/><circle cx="1399.6" cy="514.3" r="3.9"/><circle cx="1402.8" cy="503.6" r="3.9"/><circle cx="1405.4" cy="497.8" r="3.9"/><circle cx="1408.6" cy="500.9" r="3.9"/><circle cx="1411.2" cy="517.0" r="3.9"/><circle cx="1414.4" cy="522.8" r="3.9"/><circle cx="1417.5" cy="541.1" r="3.9"/><circle cx="1420.2" cy="524.1" r="3.9"/><circle cx="1423.3" cy="533.5" r="3.9"/><circle cx="1426.4" cy="524.6" r="3.9"/><circle cx="1430.0" cy="531.7" r="3.9"/><circle cx="1433.6" cy="532.1" r="3.9"/><circle cx="1436.7" cy="522.8" r="3.9"/><circle cx="1439.8" cy="535.7" r="3.9"/><circle cx="1442.9" cy="533.5" r="3.9"/><circle cx="1498.9" cy="529.0" r="3.9"/><circle cx="1494.5" cy="552.7" r="3.9"/><circle cx="1501.6" cy="553.1" r="3.9"/><circle cx="1504.9" cy="546.4" r="3.9"/><circle cx="1507.8" cy="560.5" r="3.9"/><circle cx="1510.7" cy="545.2" r="3.9"/><circle cx="1514.0" cy="552.2" r="3.9"/><circle cx="1516.9" cy="556.4" r="3.9"/><circle cx="1519.8" cy="561.4" r="3.9"/><circle cx="1522.7" cy="566.3" r="3.9"/><circle cx="1525.6" cy="557.2" r="3.9"/><circle cx="1529.8" cy="565.9" r="3.9"/><circle cx="1533.1" cy="564.7" r="3.9"/><circle cx="1536.4" cy="566.3" r="3.9"/><circle cx="1539.7" cy="558.5" r="3.9"/><circle cx="1543.0" cy="559.3" r="3.9"/><circle cx="1544.7" cy="587.1" r="3.9"/><circle cx="1548.0" cy="558.9" r="3.9"/><circle cx="1550.9" cy="553.1" r="3.9"/><circle cx="1553.8" cy="546.8" r="3.9"/><circle cx="1556.7" cy="584.2" r="3.9"/><circle cx="1560.0" cy="556.0" r="3.9"/><circle cx="1562.9" cy="556.0" r="3.9"/><circle cx="1567.1" cy="566.3" r="3.9"/><circle cx="1570.4" cy="569.7" r="3.9"/><circle cx="1572.9" cy="576.3" r="3.9"/><circle cx="1575.4" cy="583.3" r="3.9"/><circle cx="1578.7" cy="585.4" r="3.9"/><circle cx="1582.0" cy="586.7" r="3.9"/><circle cx="1584.9" cy="570.5" r="3.9"/><circle cx="1619.1" cy="588.1" r="3.9"/><circle cx="1622.0" cy="583.9" r="3.9"/><circle cx="1624.9" cy="583.9" r="3.9"/><circle cx="1628.2" cy="603.0" r="3.9"/><circle cx="1631.1" cy="590.6" r="3.9"/><circle cx="1634.0" cy="595.1" r="3.9"/><circle cx="1636.9" cy="585.2" r="3.9"/><circle cx="1639.8" cy="593.9" r="3.9"/><circle cx="1642.7" cy="598.5" r="3.9"/><circle cx="1645.6" cy="589.8" r="3.9"/><circle cx="1648.9" cy="600.1" r="3.9"/><circle cx="1653.1" cy="588.5" r="3.9"/><circle cx="1659.3" cy="605.9" r="3.9"/><circle cx="1662.2" cy="604.7" r="3.9"/><circle cx="1665.1" cy="589.8" r="3.9"/><circle cx="1668.0" cy="615.0" r="3.9"/><circle cx="1670.9" cy="612.1" r="3.9"/><circle cx="1673.8" cy="603.0" r="3.9"/><circle cx="1676.7" cy="622.5" r="3.9"/><circle cx="1679.6" cy="612.1" r="3.9"/><circle cx="1684.2" cy="641.6" r="3.9"/><circle cx="1687.1" cy="608.8" r="3.9"/><circle cx="1690.4" cy="614.6" r="3.9"/><circle cx="1693.3" cy="613.8" r="3.9"/><circle cx="1696.2" cy="628.3" r="3.9"/><circle cx="1699.1" cy="571.9" r="3.9"/><circle cx="1702.0" cy="623.7" r="3.9"/><circle cx="1707.8" cy="616.3" r="3.9"/><circle cx="1742.0" cy="631.0" r="3.9"/><circle cx="1744.9" cy="623.9" r="3.9"/><circle cx="1748.2" cy="637.2" r="3.9"/><circle cx="1751.1" cy="616.5" r="3.9"/><circle cx="1754.0" cy="635.1" r="3.9"/><circle cx="1756.9" cy="641.8" r="3.9"/><circle cx="1761.5" cy="649.2" r="3.9"/><circle cx="1764.4" cy="644.7" r="3.9"/><circle cx="1767.3" cy="635.6" r="3.9"/><circle cx="1770.2" cy="640.1" r="3.9"/><circle cx="1773.1" cy="625.2" r="3.9"/><circle cx="1776.4" cy="638.9" r="3.9"/><circle cx="1779.3" cy="638.5" r="3.9"/><circle cx="1782.2" cy="631.4" r="3.9"/><circle cx="1785.1" cy="592.9" r="3.9"/><circle cx="1788.0" cy="640.1" r="3.9"/><circle cx="1793.0" cy="653.0" r="3.9"/><circle cx="1795.5" cy="654.6" r="3.9"/><circle cx="1798.8" cy="645.9" r="3.9"/><circle cx="1801.3" cy="648.8" r="3.9"/><circle cx="1804.2" cy="626.8" r="3.9"/><circle cx="1807.5" cy="639.7" r="3.9"/><circle cx="1810.4" cy="654.2" r="3.9"/><circle cx="1813.3" cy="656.3" r="3.9"/><circle cx="1816.6" cy="638.5" r="3.9"/><circle cx="1819.9" cy="640.5" r="3.9"/><circle cx="1822.8" cy="643.8" r="3.9"/><circle cx="1827.0" cy="648.8" r="3.9"/><circle cx="1829.9" cy="660.8" r="3.9"/><circle cx="1832.4" cy="665.4" r="3.9"/><circle cx="1868.4" cy="675.9" r="3.9"/><circle cx="1871.2" cy="647.8" r="3.9"/><circle cx="1873.9" cy="651.8" r="3.9"/><circle cx="1877.1" cy="665.2" r="3.9"/><circle cx="1880.2" cy="652.2" r="3.9"/><circle cx="1883.3" cy="671.4" r="3.9"/><circle cx="1886.0" cy="684.8" r="3.9"/><circle cx="1889.1" cy="686.2" r="3.9"/><circle cx="1892.7" cy="686.2" r="3.9"/><circle cx="1896.2" cy="700.9" r="3.9"/><circle cx="1898.9" cy="684.8" r="3.9"/><circle cx="1902.5" cy="634.4" r="3.9"/><circle cx="1905.6" cy="681.2" r="3.9"/><circle cx="1908.3" cy="689.3" r="3.9"/><circle cx="1911.4" cy="668.3" r="3.9"/><circle cx="1914.1" cy="674.1" r="3.9"/><circle cx="1917.2" cy="683.5" r="3.9"/><circle cx="1920.4" cy="674.1" r="3.9"/><circle cx="1923.0" cy="669.6" r="3.9"/><circle cx="1925.7" cy="660.7" r="3.9"/><circle cx="1930.6" cy="684.4" r="3.9"/><circle cx="1933.8" cy="699.1" r="3.9"/><circle cx="1936.9" cy="696.0" r="3.9"/><circle cx="1940.0" cy="698.2" r="3.9"/><circle cx="1942.2" cy="705.4" r="3.9"/><circle cx="1945.4" cy="661.2" r="3.9"/><circle cx="1948.5" cy="634.4" r="3.9"/><circle cx="1951.6" cy="697.8" r="3.9"/><circle cx="1954.3" cy="694.6" r="3.9"/><circle cx="1957.0" cy="692.0" r="3.9"/><circle cx="2013.5" cy="703.9" r="3.9"/><circle cx="2019.6" cy="714.2" r="3.9"/><circle cx="2025.6" cy="718.8" r="3.9"/><circle cx="2029.6" cy="708.5" r="3.9"/><circle cx="2035.9" cy="705.0" r="3.9"/><circle cx="2041.7" cy="711.3" r="3.9"/><circle cx="2046.3" cy="720.5" r="3.9"/><circle cx="2052.0" cy="709.6" r="3.9"/><circle cx="2058.3" cy="715.9" r="3.9"/><circle cx="2062.3" cy="721.7" r="3.9"/><circle cx="2068.1" cy="726.3" r="3.9"/><circle cx="2074.4" cy="711.3" r="3.9"/><circle cx="2078.6" cy="702.7" r="3.9"/><circle cx="2084.7" cy="733.7" r="3.9"/><circle cx="2090.8" cy="681.5" r="3.9"/><circle cx="2095.0" cy="732.0" r="3.9"/><circle cx="2100.8" cy="711.3" r="3.9"/><circle cx="2107.1" cy="702.7" r="3.9"/><circle cx="2111.7" cy="702.7" r="3.9"/><circle cx="2117.2" cy="757.2" r="3.9"/><circle cx="2123.2" cy="739.5" r="3.9"/><circle cx="2129.2" cy="730.3" r="3.9"/><circle cx="2133.5" cy="707.9" r="3.9"/><circle cx="2139.5" cy="713.0" r="3.9"/><circle cx="2145.6" cy="732.0" r="3.9"/><circle cx="2149.9" cy="761.8" r="3.9"/><circle cx="2155.9" cy="715.9" r="3.9"/><circle cx="2161.5" cy="758.5" r="3.9"/><circle cx="2166.4" cy="755.4" r="3.9"/><circle cx="2172.4" cy="758.5" r="3.9"/><circle cx="2187.0" cy="737.9" r="3.9"/><circle cx="2193.0" cy="736.6" r="3.9"/><circle cx="2197.3" cy="726.3" r="3.9"/><circle cx="2203.3" cy="721.5" r="3.9"/><circle cx="2209.4" cy="746.9" r="3.9"/><circle cx="2213.6" cy="715.4" r="3.9"/><circle cx="2219.7" cy="736.6" r="3.9"/><circle cx="2225.1" cy="737.9" r="3.9"/><circle cx="2231.4" cy="712.4" r="3.9"/><circle cx="2236.0" cy="742.7" r="3.9"/><circle cx="2242.1" cy="746.9" r="3.9"/><circle cx="2247.9" cy="746.9" r="3.9"/><circle cx="2252.4" cy="776.6" r="3.9"/><circle cx="2258.2" cy="767.5" r="3.9"/><circle cx="2263.9" cy="726.3" r="3.9"/><circle cx="2268.5" cy="797.2" r="3.9"/><circle cx="2274.6" cy="763.3" r="3.9"/><circle cx="2280.3" cy="783.9" r="3.9"/><circle cx="2284.9" cy="750.0" r="3.9"/><circle cx="2290.8" cy="727.6" r="3.9"/><circle cx="2296.6" cy="754.2" r="3.9"/><circle cx="2301.2" cy="785.7" r="3.9"/><circle cx="2307.3" cy="717.3" r="3.9"/><circle cx="2313.3" cy="793.0" r="3.9"/></g>
<rect x="118.60" y="168.70" width="2298.10" height="1141.50" fill="none" stroke="#000" stroke-width="1.6"/>
<path d="M238.70 1310.20v7M678.60 1310.20v7M1118.50 1310.20v7M1558.40 1310.20v7M1998.30 1310.20v7M118.60 196.70h-7M118.60 334.98h-7M118.60 473.26h-7M118.60 611.54h-7M118.60 749.82h-7M118.60 888.10h-7M118.60 1026.38h-7M118.60 1164.66h-7M118.60 1302.94h-7" stroke="#000" stroke-width="1.6" fill="none"/>
<g font-size="21.59" fill="#000" stroke="#000" stroke-width="0.16"><text transform="scale(1.00,1)" x="216.7" y="1340.20">0</text><text transform="scale(1.02,1)" x="224.9" y="1340.20">.</text><text transform="scale(0.96,1)" x="246.3" y="1340.20">3</text><text transform="scale(0.94,1)" x="265.3" y="1340.20">5</text></g>
<g font-size="21.59" fill="#000" stroke="#000" stroke-width="0.16"><text transform="scale(1.00,1)" x="656.4 675.8 688.8" y="1340.20">040</text><text transform="scale(1.02,1)" x="655.9" y="1340.20">.</text></g>
<g font-size="21.59" fill="#000" stroke="#000" stroke-width="0.16"><text transform="scale(1.00,1)" x="1096.5 1115.9" y="1340.20">04</text><text transform="scale(1.02,1)" x="1087.4" y="1340.20">.</text><text transform="scale(0.94,1)" x="1201.3" y="1340.20">5</text></g>
<g font-size="21.59" fill="#000" stroke="#000" stroke-width="0.16"><text transform="scale(1.00,1)" x="1536.2 1568.6" y="1340.20">00</text><text transform="scale(1.02,1)" x="1518.5" y="1340.20">.</text><text transform="scale(0.94,1)" x="1655.2" y="1340.20">5</text></g>
<g font-size="21.59" fill="#000" stroke="#000" stroke-width="0.16"><text transform="scale(1.00,1)" x="1976.3" y="1340.20">0</text><text transform="scale(1.02,1)" x="1950.0" y="1340.20">.</text><text transform="scale(0.94,1)" x="2123.4 2137.2" y="1340.20">55</text></g>
<g font-size="21.59" fill="#000" stroke="#000" stroke-width="0.16"><text transform="scale(0.96,1)" x="60.3" y="204.60">1</text><text transform="scale(1.00,1)" x="70.7 90.2" y="204.60">00</text><text transform="scale(1.02,1)" x="81.7" y="204.60">.</text></g>
<g font-size="21.59" fill="#000" stroke="#000" stroke-width="0.16"><text transform="scale(0.96,1)" x="61.0 94.6" y="342.88">12</text><text transform="scale(1.00,1)" x="71.4" y="342.88">0</text><text transform="scale(1.02,1)" x="82.4" y="342.88">.</text></g>
<g font-size="21.59" fill="#000" stroke="#000" stroke-width="0.16"><text transform="scale(0.96,1)" x="60.1" y="481.16">1</text><text transform="scale(1.00,1)" x="70.5 90.0" y="481.16">04</text><text transform="scale(1.02,1)" x="81.5" y="481.16">.</text></g>
<g font-size="21.59" fill="#000" stroke="#000" stroke-width="0.16"><text transform="scale(0.96,1)" x="60.2" y="619.44">1</text><text transform="scale(1.00,1)" x="70.6" y="619.44">0</text><text transform="scale(1.02,1)" x="81.7 88.2" y="619.44">.6</text></g>
<g font-size="21.59" fill="#000" stroke="#000" stroke-width="0.16"><text transform="scale(0.96,1)" x="60.3" y="757.72">1</text><text transform="scale(1.00,1)" x="70.8 90.2" y="757.72">08</text><text transform="scale(1.02,1)" x="81.8" y="757.72">.</text></g>
<g font-size="21.59" fill="#000" stroke="#000" stroke-width="0.16"><text transform="scale(0.96,1)" x="60.3 73.8" y="896.00">11</text><text transform="scale(1.02,1)" x="81.7" y="896.00">.</text><text transform="scale(1.00,1)" x="90.2" y="896.00">0</text></g>
<g font-size="21.59" fill="#000" stroke="#000" stroke-width="0.16"><text transform="scale(0.96,1)" x="61.0 74.5 94.6" y="1034.28">112</text><text transform="scale(1.02,1)" x="82.4" y="1034.28">.</text></g>
<g font-size="21.59" fill="#000" stroke="#000" stroke-width="0.16"><text transform="scale(0.96,1)" x="60.1 73.6" y="1172.56">11</text><text transform="scale(1.02,1)" x="81.5" y="1172.56">.</text><text transform="scale(1.00,1)" x="90.0" y="1172.56">4</text></g>
<g font-size="21.59" fill="#000" stroke="#000" stroke-width="0.16"><text transform="scale(0.96,1)" x="60.2 73.7" y="1310.84">11</text><text transform="scale(1.02,1)" x="81.7 88.2" y="1310.84">.6</text></g>
<g transform="translate(41.8 740.4) rotate(-90)"><g font-size="34.97" fill="#000" stroke="#000" stroke-width="0.26"><text transform="scale(1.08,1)" x="-65.7" y="0.00">m</text><text transform="scale(0.84,1)" x="-45.8" y="0.00">a</text><text transform="scale(1.02,1)" x="-18.3 2.2" y="0.00">g.</text><text transform="scale(0.80,1)" x="30.0 76.0" y="0.00">()</text><text transform="scale(0.96,1)" x="37.4" y="0.00">V</text></g></g>
<rect x="2165.5" y="179" width="241.1" height="99.1" rx="4" ry="4" fill="#fff" fill-opacity="0.8" stroke="#cccccc" stroke-width="1.6"/>
<line x1="2169.8" y1="194.6" x2="2216" y2="194.6" stroke="#f52222" stroke-width="5.8"/>
<line x1="2172.9" y1="225.6" x2="2213.5" y2="225.6" stroke="#ff0000" stroke-width="3" stroke-dasharray="10 6.2"/>
<path d="M2193 247.5V268.2M2184 247.5h18M2184 268.2h18" stroke="#4a72b4" stroke-width="2" fill="none"/>
<circle cx="2193" cy="257.8" r="3.9" fill="#000"/>
<g font-size="21.92" fill="#000" stroke="#000" stroke-width="0.17"><text transform="scale(0.80,1)" x="2787.0 2885.2 2923.8 2989.4" y="203.20">FF()</text><text transform="scale(1.00,1)" x="2240.4" y="203.20">o</text><text transform="scale(1.02,1)" x="2208.9 2235.6 2255.0 2300.8" y="203.20">ue-n</text><text transform="scale(1.20,1)" x="1888.4 1910.9" y="203.20">rr</text><text transform="scale(0.96,1)" x="2369.7 2415.1 2476.7" y="203.20">ii3</text><text transform="scale(1.26,1)" x="1844.3" y="203.20">t</text><text transform="scale(1.22,1)" x="1934.7" y="203.20">=</text></g>
<g font-size="21.92" fill="#000" stroke="#000" stroke-width="0.17"><text transform="scale(1.08,1)" x="2064.3" y="233.40">m</text><text transform="scale(0.84,1)" x="2678.3" y="233.40">a</text><text transform="scale(1.04,1)" x="2175.3" y="233.40">x</text><text transform="scale(1.02,1)" x="2229.8 2257.9 2287.3 2311.2" y="233.40">.ege</text><text transform="scale(0.94,1)" x="2433.7" y="233.40">H</text><text transform="scale(0.96,1)" x="2412.6 2418.6 2424.6 2469.3" y="233.40">llii</text><text transform="scale(1.06,1)" x="2213.5" y="233.40">k</text><text transform="scale(1.26,1)" x="1885.6" y="233.40">t</text></g>
<g font-size="21.68" fill="#000" stroke="#000" stroke-width="0.16"><text transform="scale(0.94,1)" x="2372.5" y="264.20">M</text><text transform="scale(1.02,1)" x="2203.6 2253.2 2281.7" y="264.20">eee</text><text transform="scale(0.90,1)" x="2511.8 2523.6" y="264.20">ss</text><text transform="scale(0.96,1)" x="2377.3" y="264.20">w</text><text transform="scale(1.20,1)" x="1925.7" y="264.20">r</text><text transform="scale(1.26,1)" x="1840.7" y="264.20">t</text></g>
<g font-size="53.20" font-weight="bold" fill="#000" stroke="#000" stroke-width="1.26"><text transform="scale(0.98,1)" x="1153.5" y="58.00">U</text><text transform="scale(1.10,1)" x="1062.1" y="58.00">Y</text><text transform="scale(0.92,1)" x="1331.5" y="58.00">B</text><text transform="scale(1.06,1)" x="1190.4 1222.9" y="58.00">oo</text></g>
<g font-size="43.82" fill="#000" stroke="#000" stroke-width="0.33"><text transform="scale(0.80,1)" x="1204.8 1948.1" y="134.00">()</text><text transform="scale(0.94,1)" x="1041.8 1413.8 1485.7 1557.5" y="134.00">M555</text><text transform="scale(0.84,1)" x="1208.7" y="134.00">a</text><text transform="scale(1.04,1)" x="1000.3" y="134.00">x</text><text transform="scale(0.96,1)" x="1109.6 1301.5 1356.3 1497.0 1566.4" y="134.00">i2222</text><text transform="scale(1.08,1)" x="996.4 1058.0" y="134.00">mm</text><text transform="scale(1.02,1)" x="1094.6 1327.2 1393.5 1499.8" y="134.00">u--6</text><text transform="scale(1.00,1)" x="1196.0 1275.8 1369.6" y="134.00">o00</text><text transform="scale(1.24,1)" x="984.7" y="134.00">f</text><text transform="scale(1.14,1)" x="1306.0" y="134.00">/</text></g>
<g font-size="43.73" fill="#0000ff" stroke="#0000ff" stroke-width="0.33"><text transform="scale(0.80,1)" x="914.4 1035.5" y="1472.20">()</text><text transform="scale(1.02,1)" x="730.6 972.6 1037.9 1248.9 1377.3 1578.5" y="1472.20">Tu:6..</text><text transform="scale(1.00,1)" x="764.9 1247.9 1300.4 1326.7 1418.5 1471.1 1584.4 1623.8 1650.0 1702.5" y="1472.20">o408480008</text><text transform="scale(0.94,1)" x="840.8 909.8 1154.8 1593.5" y="1472.20">MMH5</text><text transform="scale(0.84,1)" x="1060.9" y="1472.20">a</text><text transform="scale(1.04,1)" x="880.9" y="1472.20">x</text><text transform="scale(0.96,1)" x="980.1 1272.5 1409.2 1436.9 1505.3 1746.1" y="1472.20">i22112</text><text transform="scale(1.08,1)" x="881.3 942.8" y="1472.20">mm</text><text transform="scale(0.76,1)" x="1462.6" y="1472.20">J</text><text transform="scale(0.98,1)" x="1151.6" y="1472.20">D</text><text transform="scale(1.22,1)" x="962.9 1261.0" y="1472.20">=±</text></g>
<g font-size="26.02" fill="#4a6fb0" stroke="#4a6fb0" stroke-width="0.20"><text transform="scale(1.02,1)" x="863.9 908.8 1042.2 1081.0 1172.9 1212.2 1305.6 1344.1 1391.6 1473.3 1534.3" y="1516.50">Teu:--:.T.n</text><text transform="scale(0.96,1)" x="934.0 1075.6 1181.7 1214.2 1297.8 1354.7 1371.0 1412.2 1623.3" y="1516.50">ii222222i</text><text transform="scale(1.08,1)" x="836.3 962.1 998.7 1420.5" y="1516.50">mmmm</text><text transform="scale(1.00,1)" x="950.0 1150.1 1205.8 1340.1 1379.2 1487.5 1510.9" y="1516.50">o000840</text><text transform="scale(1.24,1)" x="778.1" y="1516.50">f</text><text transform="scale(0.94,1)" x="1044.2 1257.1 1299.7 1342.4" y="1516.50">M555</text><text transform="scale(0.84,1)" x="1194.0" y="1516.50">a</text><text transform="scale(1.04,1)" x="978.7" y="1516.50">x</text><text transform="scale(0.92,1)" x="1524.3" y="1516.50">U</text><text transform="scale(0.88,1)" x="1629.3" y="1516.50">C</text><text transform="scale(1.22,1)" x="1196.8" y="1516.50">±</text></g>
<g font-size="35.06" fill="#4a6fb0" stroke="#4a6fb0" stroke-width="0.26"><text transform="scale(0.80,1)" x="932.7 1285.1 2085.6 2131.8" y="1561.80">()()</text><text transform="scale(1.08,1)" x="702.2 971.7 1456.8" y="1561.80">mmm</text><text transform="scale(0.84,1)" x="941.7 1288.2 1911.8" y="1561.80">aaa</text><text transform="scale(1.04,1)" x="779.9 1059.7" y="1561.80">xx</text><text transform="scale(1.02,1)" x="814.0 835.1 877.7 898.5 931.8 952.0 1099.4 1144.4 1191.5 1229.6 1360.4 1391.5 1480.4 1593.9 1614.4" y="1561.80">.bghne.ege.9.g.</text><text transform="scale(1.20,1)" x="726.9" y="1561.80">r</text><text transform="scale(0.96,1)" x="923.5 1237.7 1247.3 1256.9 1328.3 1402.3 1606.8 1750.4" y="1561.80">illii13V</text><text transform="scale(1.26,1)" x="743.7 1018.8" y="1561.80">tt</text><text transform="scale(0.90,1)" x="1102.3 1121.5" y="1561.80">ss</text><text transform="scale(0.94,1)" x="1215.6" y="1561.80">H</text><text transform="scale(1.06,1)" x="1166.4" y="1561.80">k</text><text transform="scale(1.22,1)" x="1072.4 1190.6" y="1561.80">=±</text><text transform="scale(1.00,1)" x="1367.0 1398.6 1489.4 1521.0" y="1561.80">0000</text></g>
<g font-size="26.16" fill="#4a6fb0" stroke="#4a6fb0" stroke-width="0.20"><text transform="scale(0.94,1)" x="949.2" y="1605.70">M</text><text transform="scale(1.02,1)" x="895.5 925.4 984.6 999.8 1069.2 1103.4 1118.9 1209.0 1251.4 1276.1 1291.0 1313.8 1415.6 1454.3 1515.7 1531.0" y="1605.70">enueedueued-.9g.</text><text transform="scale(0.84,1)" x="1105.9 1169.7 1377.6 1486.6 1822.9" y="1605.70">aaaaa</text><text transform="scale(0.96,1)" x="1007.3 1039.3 1165.6 1221.2 1423.1 1529.2" y="1605.70">Vlili1</text><text transform="scale(1.00,1)" x="1042.9 1428.6 1452.2" y="1605.70">o00</text><text transform="scale(1.24,1)" x="853.1 1094.3" y="1605.70">ff</text><text transform="scale(0.90,1)" x="1194.2 1229.1 1310.3 1404.4" y="1605.70">Rsss</text><text transform="scale(0.80,1)" x="1500.1 1729.9" y="1605.70">()</text><text transform="scale(1.08,1)" x="1119.6 1395.3" y="1605.70">mm</text><text transform="scale(1.20,1)" x="1076.6" y="1605.70">r</text><text transform="scale(1.26,1)" x="1089.3" y="1605.70">t</text><text transform="scale(1.22,1)" x="1148.0" y="1605.70">=</text></g>
<g font-size="21.90" fill="#4a6fb0" stroke="#4a6fb0" stroke-width="0.17"><text transform="scale(0.80,1)" x="1062.4 1072.4 1941.2 2007.2" y="1650.30">(FF)</text><text transform="scale(0.96,1)" x="904.4 974.6 1002.6 1041.4 1081.4 1098.7 1133.6 1314.6 1381.5 1469.7 1516.0 1522.0 1641.2" y="1650.30">iliiwil1ilill</text><text transform="scale(1.26,1)" x="693.3 786.7 841.3 1056.8 1163.9" y="1650.30">ttttt</text><text transform="scale(1.20,1)" x="740.2 794.7 995.4 1239.4" y="1650.30">rrrr</text><text transform="scale(1.02,1)" x="878.7 891.2 904.2 998.0 1047.4 1104.6 1117.3 1178.9 1191.4 1204.5 1230.4 1288.2 1313.2 1335.4 1346.6 1401.3 1445.7 1473.1 1496.3 1509.0 1560.5" y="1650.30">egunhbdeg:.vzy-yeue:e</text><text transform="scale(0.84,1)" x="1120.6 1165.5 1302.3 1372.6 1409.6 1533.6 1549.2 1686.5 1860.5" y="1650.30">aaaa_Saaa</text><text transform="scale(0.90,1)" x="1075.9 1684.3 1757.0" y="1650.30">sss</text><text transform="scale(1.00,1)" x="1005.2 1242.2 1398.0" y="1650.30">o0o</text><text transform="scale(1.08,1)" x="1024.4" y="1650.30">m</text><text transform="scale(1.04,1)" x="1127.1" y="1650.30">λ</text><text transform="scale(1.38,1)" x="922.8" y="1650.30">,</text><text transform="scale(1.06,1)" x="1274.2" y="1650.30">k</text><text transform="scale(0.92,1)" x="1502.0" y="1650.30">G</text><text transform="scale(1.24,1)" x="1167.5" y="1650.30">f</text></g>
<g font-size="44.02" fill="#000" stroke="#000" stroke-width="0.33"><text transform="scale(1.02,1)" x="635.6 650.3 665.0 679.7 694.4 709.1 723.8 738.5 753.1 767.8 782.5 797.2 811.9 826.6 841.3 856.0 870.7 885.4 900.1 914.8 929.5 944.2 958.9 973.6 988.3 1003.0 1017.7 1032.4 1047.1 1061.8 1076.5 1091.2 1105.9 1120.6 1135.3 1149.9 1164.6 1179.3 1194.0 1208.7 1223.4 1238.1 1252.8 1267.5 1282.2 1296.9 1311.6 1326.3 1341.0 1355.7 1370.4 1385.1 1399.8 1414.5 1429.2 1443.9 1458.6 1473.3 1488.0 1502.7 1517.4 1532.1 1546.7 1561.4 1576.1 1590.8 1605.5 1620.2 1634.9 1649.6 1664.3 1679.0 1693.7 1708.4 1723.1 1737.8" y="1828.40">----------------------------------------------------------------------------</text></g>
<g font-size="44.22" fill="#000" stroke="#000" stroke-width="0.33"><text transform="scale(0.84,1)" x="1009.2 1585.1 1862.0" y="1885.20">PSS</text><text transform="scale(0.94,1)" x="928.2 961.2 1023.2 1058.7 1351.0 1594.9 1630.2" y="1885.20">HOOMOON</text><text transform="scale(1.02,1)" x="916.7 1035.1 1431.5" y="1885.20">TTT</text><text transform="scale(0.82,1)" x="1258.0 1656.1" y="1885.20">EE</text><text transform="scale(0.90,1)" x="1203.5 1537.9" y="1885.20">RR</text><text transform="scale(1.00,1)" x="1111.3 1486.7" y="1885.20">II</text><text transform="scale(0.88,1)" x="1277.2 1325.4 1358.5" y="1885.20">CCC</text><text transform="scale(0.98,1)" x="1249.8" y="1885.20">D</text><text transform="scale(0.92,1)" x="1416.6" y="1885.20">B</text><text transform="scale(0.96,1)" x="1468.8 1495.8" y="1885.20">VA</text></g>
<g font-size="44.19" fill="#000" stroke="#000" stroke-width="0.33"><text transform="scale(0.92,1)" x="424.3 499.7" y="1942.80">UB</text><text transform="scale(0.94,1)" x="445.9 742.8 786.1 922.2 2094.0 2150.5" y="1942.80">Y5M555</text><text transform="scale(1.00,1)" x="488.1 513.6 552.4 644.6 1227.4 1280.4 1307.0 1426.3 1452.9 1795.4 1848.4 1875.0" y="1942.80">ooo040844408</text><text transform="scale(1.02,1)" x="566.9 709.1 785.2 807.6 1008.5 1034.1 1229.1 1358.8 1476.6 1502.1 1527.7 1565.3 1591.0 1785.9 1915.6 1954.9" y="1942.80">n-y-ng6.endng6.9</text><text transform="scale(0.96,1)" x="643.8 699.0 874.7 1059.8 1250.8 1389.0 1417.0 1458.7 1651.5 1842.5 1980.7 2008.7" y="1942.80">222i2213i221</text><text transform="scale(0.84,1)" x="922.9 1140.8" y="1942.80">aa</text><text transform="scale(1.38,1)" x="644.6 1069.7" y="1942.80">;;</text><text transform="scale(0.90,1)" x="1022.6" y="1942.80">s</text><text transform="scale(1.26,1)" x="747.0 793.8" y="1942.80">tt</text><text transform="scale(1.20,1)" x="819.3" y="1942.80">r</text><text transform="scale(0.76,1)" x="1433.7 2181.1" y="1942.80">JJ</text><text transform="scale(0.98,1)" x="1129.4 1709.0" y="1942.80">DD</text><text transform="scale(1.22,1)" x="945.4 1411.0" y="1942.80">==</text></g>
<g font-size="44.02" fill="#000" stroke="#000" stroke-width="0.33"><text transform="scale(1.02,1)" x="635.6 650.3 665.0 679.7 694.4 709.1 723.8 738.5 753.1 767.8 782.5 797.2 811.9 826.6 841.3 856.0 870.7 885.4 900.1 914.8 929.5 944.2 958.9 973.6 988.3 1003.0 1017.7 1032.4 1047.1 1061.8 1076.5 1091.2 1105.9 1120.6 1135.3 1149.9 1164.6 1179.3 1194.0 1208.7 1223.4 1238.1 1252.8 1267.5 1282.2 1296.9 1311.6 1326.3 1341.0 1355.7 1370.4 1385.1 1399.8 1414.5 1429.2 1443.9 1458.6 1473.3 1488.0 1502.7 1517.4 1532.1 1546.7 1561.4 1576.1 1590.8 1605.5 1620.2 1634.9 1649.6 1664.3 1679.0 1693.7 1708.4 1723.1 1737.8" y="2002.00">----------------------------------------------------------------------------</text></g>
<g font-size="44.15" fill="#0000ff" stroke="#0000ff" stroke-width="0.33"><text transform="scale(0.94,1)" x="730.1 1010.4 1171.7 1769.9" y="2115.90">OHHH</text><text transform="scale(1.02,1)" x="705.7 752.4 795.0 818.5 860.1 917.8 961.8 1175.6 1201.2 1243.0 1314.3 1420.7 1446.9 1604.5" y="2115.90">beve:.ubugeny:</text><text transform="scale(0.90,1)" x="829.5 1120.0 1913.0" y="2115.90">ssR</text><text transform="scale(1.20,1)" x="660.8 717.0 878.7 1042.8 1138.5" y="2115.90">rrrrr</text><text transform="scale(0.98,1)" x="922.7" y="2115.90">D</text><text transform="scale(0.84,1)" x="1225.7 1348.9 1695.1 2018.4" y="2115.90">aaaS</text><text transform="scale(0.80,1)" x="1357.3 1878.2" y="2115.90">()</text><text transform="scale(1.08,1)" x="1072.3 1280.4" y="2115.90">mm</text><text transform="scale(1.14,1)" x="1135.0" y="2115.90">/</text><text transform="scale(0.92,1)" x="1422.0 1692.4" y="2115.90">GB</text><text transform="scale(0.96,1)" x="1594.2 1651.0 1677.9" y="2115.90">|AV</text></g>
<g font-size="44.05" fill="#000" stroke="#000" stroke-width="0.33"><text transform="scale(1.02,1)" x="635.5 650.2 664.9 679.6 694.3 709.0 723.7 738.4 753.1 767.8 782.5 797.2 811.9 826.6 841.4 856.1 870.8 885.5 900.2 914.9 929.6 944.3 959.0 973.7 988.4 1003.1 1017.8 1032.5 1047.2 1061.9 1076.6 1091.3 1106.1 1120.8 1135.5 1150.2 1164.9 1179.6 1194.3 1209.0 1223.7 1238.4 1253.1 1267.8 1282.5 1297.2 1311.9 1326.6 1341.3 1356.0 1370.7 1385.5 1400.2 1414.9 1429.6 1444.3 1459.0 1473.7 1488.4 1503.1 1517.8 1532.5 1547.2 1561.9 1576.6 1591.3 1606.0 1620.7 1635.4 1650.1 1664.9 1679.6 1694.3 1709.0 1723.7 1738.4" y="2177.20">----------------------------------------------------------------------------</text></g>
<g font-size="44.12" fill="#000" stroke="#000" stroke-width="0.33"><text transform="scale(0.94,1)" x="478.9 806.4 971.4 1006.7 1205.6 1238.4 1469.9 1628.8 1657.0 1699.3 1727.5 1811.0 1902.3 2043.2" y="2231.00">OcOHNO55555N55</text><text transform="scale(1.02,1)" x="474.1 520.7 563.3 670.2 843.1 869.0 1072.5 1272.6 1327.7 1616.8" y="2231.00">bevyn:T:9.</text><text transform="scale(0.90,1)" x="567.0" y="2231.00">s</text><text transform="scale(1.20,1)" x="463.9 554.8" y="2231.00">rr</text><text transform="scale(0.84,1)" x="713.3 930.2 1164.2 1242.4" y="2231.00">aaPS</text><text transform="scale(1.26,1)" x="495.2 639.8" y="2231.00">tt</text><text transform="scale(1.00,1)" x="640.4 732.5 834.2 1120.4 1226.1 1464.3 1663.0 1761.1 1827.3 1893.5" y="2231.00">oooII40044</text><text transform="scale(0.96,1)" x="751.6 857.6 1114.4 1290.1 1497.5 1553.5 1931.0" y="2231.00">liAA|32</text><text transform="scale(1.14,1)" x="890.6" y="2231.00">/</text><text transform="scale(0.80,1)" x="1514.0 1762.2" y="2231.00">()</text><text transform="scale(0.92,1)" x="1377.6" y="2231.00">U</text><text transform="scale(0.88,1)" x="1505.6" y="2231.00">C</text><text transform="scale(1.38,1)" x="1254.1" y="2231.00">;</text><text transform="scale(0.82,1)" x="2390.1" y="2231.00">E</text></g>
<g font-size="44.09" fill="#000" stroke="#000" stroke-width="0.33"><text transform="scale(0.88,1)" x="299.9 1009.1" y="2346.90">CC</text><text transform="scale(0.84,1)" x="349.6 479.0 575.8 801.8 945.7 1844.2" y="2346.90">aaSPSP</text><text transform="scale(1.08,1)" x="295.1 1114.0 1151.5 1334.4 1371.9 1677.9" y="2346.90">mmmmmm</text><text transform="scale(1.02,1)" x="352.0 419.3 537.6 803.7 899.5 936.9 994.4 1016.3 1101.7 1127.4 1360.8 1576.0 1672.6 1750.6 1842.7 1879.7 1905.6 1942.8 1968.3" y="2346.90">e:9-hpze9..e.µbnnng</text><text transform="scale(1.20,1)" x="320.5 581.0" y="2346.90">rr</text><text transform="scale(0.96,1)" x="473.1 543.9 782.4 870.9 983.6 1045.7 1143.7 1212.6 1391.6 1419.5 1638.9 1701.9 1750.1 1792.1 1819.1 1985.5 2052.5" y="2346.90">A2@1ii1113il232ii</text><text transform="scale(1.00,1)" x="509.0 575.2 713.5 1401.8 2069.5 2147.0" y="2346.90">I4o044</text><text transform="scale(0.94,1)" x="639.8 678.0" y="2346.90">MM</text><text transform="scale(1.38,1)" x="622.5 1101.0 1340.5" y="2346.90">,,,</text><text transform="scale(0.90,1)" x="1091.5" y="2346.90">s</text><text transform="scale(1.22,1)" x="871.8 1349.3 1668.3" y="2346.90">===</text><text transform="scale(1.04,1)" x="1247.7 1523.7 2027.9" y="2346.90">xxx</text></g>
<g font-size="44.04" fill="#000" stroke="#000" stroke-width="0.33"><text transform="scale(1.02,1)" x="606.7 626.0 662.4 756.6 781.9 807.4 859.5 898.1 1018.8 1152.4 1203.2 1408.2 1433.6 1459.2 1501.2" y="2404.60">Teepe:.-Tn-engh</text><text transform="scale(0.96,1)" x="692.5 927.6 1212.7 1295.3 1459.1 1484.9 1688.0 1715.9" y="2404.60">l2i1ll21</text><text transform="scale(0.90,1)" x="780.0" y="2404.60">s</text><text transform="scale(0.94,1)" x="769.2 1438.2" y="2404.60">cc</text><text transform="scale(1.00,1)" x="745.8 850.9 1201.5 1326.4 1673.4 1699.9" y="2404.60">o0oo00</text><text transform="scale(1.08,1)" x="862.6 1610.3 1647.8" y="2404.60">mmm</text><text transform="scale(0.84,1)" x="1173.6 1304.8 1336.1 1637.2" y="2404.60">SSaa</text><text transform="scale(0.88,1)" x="1149.4" y="2404.60">C</text><text transform="scale(0.80,1)" x="1350.1 1589.7" y="2404.60">()</text><text transform="scale(1.26,1)" x="910.4 1202.0" y="2404.60">tt</text><text transform="scale(1.38,1)" x="929.4" y="2404.60">,</text><text transform="scale(1.24,1)" x="1057.6 1266.4" y="2404.60">ff</text><text transform="scale(1.22,1)" x="1300.4" y="2404.60">=</text></g>
<g font-size="44.15" fill="#000" stroke="#000" stroke-width="0.33"><text transform="scale(0.94,1)" x="537.2 1529.1 1742.6" y="2462.70">Occ</text><text transform="scale(1.02,1)" x="527.9 574.5 587.6 613.4 724.0 750.7 867.3 1036.6 1085.7 1157.6 1199.2 1310.5 1383.8 1478.6 1504.2 1701.3 1726.9 1753.1 1779.1" y="2462.70">b.de:neepue.eenng:-</text><text transform="scale(0.90,1)" x="627.9 796.9 1288.5 1388.4 1545.1 1652.6 1734.5" y="2462.70">sssssss</text><text transform="scale(1.26,1)" x="516.9 689.1" y="2462.70">tt</text><text transform="scale(0.84,1)" x="795.6" y="2462.70">a</text><text transform="scale(0.96,1)" x="722.8 734.9 881.1 893.2 1026.8 1338.4 1783.8 1795.9 1907.2" y="2462.70">ililV3li1</text><text transform="scale(1.00,1)" x="791.9 1133.4 1310.8 1350.6 1582.1 1660.9 1686.4 1857.2" y="2462.70">oo00ooo0</text><text transform="scale(1.24,1)" x="669.6" y="2462.70">f</text><text transform="scale(1.20,1)" x="758.5 1005.7 1339.5" y="2462.70">rrr</text><text transform="scale(0.80,1)" x="1177.1 1271.6" y="2462.70">()</text><text transform="scale(0.88,1)" x="1087.4 2163.5" y="2462.70">CC</text><text transform="scale(1.38,1)" x="745.0 1056.1" y="2462.70">,,</text><text transform="scale(1.04,1)" x="1040.9 1811.5" y="2462.70">x°</text></g>
<g font-size="44.31" fill="#000" stroke="#000" stroke-width="0.33"><text transform="scale(0.98,1)" x="1048.3" y="2520.80">D</text><text transform="scale(0.84,1)" x="1261.9 1312.0" y="2520.80">aa</text><text transform="scale(1.26,1)" x="861.0 966.0" y="2520.80">tt</text><text transform="scale(1.02,1)" x="1105.5 1167.8 1244.3" y="2520.80">pnn</text><text transform="scale(1.00,1)" x="1153.7 1330.9 1384.1" y="2520.80">o48</text><text transform="scale(0.96,1)" x="1229.1 1414.4" y="2520.80">i1</text><text transform="scale(0.90,1)" x="1371.7" y="2520.80">s</text><text transform="scale(1.22,1)" x="1062.8" y="2520.80">=</text></g>
<g font-size="44.05" fill="#000" stroke="#000" stroke-width="0.33"><text transform="scale(1.02,1)" x="635.3 650.0 664.7 679.4 694.1 708.8 723.5 738.2 752.9 767.6 782.4 797.1 811.8 826.5 841.2 855.9 870.6 885.3 900.0 914.7 929.4 944.1 958.8 973.5 988.2 1002.9 1017.7 1032.4 1047.1 1061.8 1076.5 1091.2 1105.9 1120.6 1135.3 1150.0 1164.7 1179.4 1194.1 1208.8 1223.5 1238.3 1253.0 1267.7 1282.4 1297.1 1311.8 1326.5 1341.2 1355.9 1370.6 1385.3 1400.0 1414.7 1429.4 1444.1 1458.9 1473.6 1488.3 1503.0 1517.7 1532.4 1547.1 1561.8 1576.5 1591.2 1605.9 1620.6 1635.3 1650.0 1664.7 1679.5 1694.2 1708.9 1723.6 1738.3" y="2579.40">----------------------------------------------------------------------------</text></g>
<g font-size="44.07" font-weight="bold" fill="#000" stroke="#000" stroke-width="1.04"><text transform="scale(1.02,1)" x="519.3" y="2693.40">O</text><text transform="scale(1.10,1)" x="513.8 677.6 1051.3 1076.8 1559.7" y="2693.40">bY8m7</text><text transform="scale(1.24,1)" x="479.1" y="2693.40">j</text><text transform="scale(1.14,1)" x="534.0 1102.9 1565.2" y="2693.40">e66</text><text transform="scale(0.94,1)" x="677.9" y="2693.40">c</text><text transform="scale(1.36,1)" x="486.4" y="2693.40">t</text><text transform="scale(1.18,1)" x="577.4 840.7 1090.1 1292.6 1334.4 1536.7" y="2693.40">:=.=+.</text><text transform="scale(0.98,1)" x="728.6 930.6 1387.6 1700.9" y="2693.40">URs°</text><text transform="scale(0.92,1)" x="861.2" y="2693.40">B</text><text transform="scale(1.06,1)" x="776.3 803.2 1159.4 1256.2 1335.7" y="2693.40">oo44D</text><text transform="scale(1.48,1)" x="592.2 932.8" y="2693.40">;;</text><text transform="scale(1.08,1)" x="872.2 1015.9" y="2693.40">Ah</text><text transform="scale(1.04,1)" x="1000.9 1028.6 1085.0 1253.1 1547.2 1574.9 1622.8 1759.9" y="2693.40">13531255</text><text transform="scale(0.88,1)" x="1648.6" y="2693.40">E</text><text transform="scale(0.90,1)" x="1642.7 2095.1" y="2693.40">C″</text><text transform="scale(1.16,1)" x="1502.1" y="2693.40">′</text><text transform="scale(1.20,1)" x="1462.1 1547.7" y="2693.40">00</text></g>
<g font-size="44.14" fill="#000" stroke="#000" stroke-width="0.33"><text transform="scale(0.94,1)" x="84.3 1842.3 2094.5 2382.5" y="2752.40">M5c5</text><text transform="scale(0.84,1)" x="137.5 251.3 1006.6 1071.1 1668.4" y="2752.40">aaaaP</text><text transform="scale(1.02,1)" x="137.7 163.5 231.7 257.3 283.1 420.4 485.7 564.9 644.9 710.2 907.1 983.1 1036.3 1060.4 1085.7 1396.6 1474.9 1529.7 1657.7 1671.0 1748.8 1879.7 1952.8 2220.4 2233.8 2259.6" y="2752.40">g.nge.6-.6byypeedd.69ph.69</text><text transform="scale(1.20,1)" x="161.0 725.3 1208.4" y="2752.40">rrr</text><text transform="scale(1.22,1)" x="269.7 940.7 1325.9 1666.0" y="2752.40">====</text><text transform="scale(0.96,1)" x="392.4 556.8 630.9 658.6 699.6 795.4 853.5 925.3 991.5 1003.5 1015.6 1302.5 1529.1 1913.7 2166.5 2249.7 2305.2" y="2752.40">1V112VViiliAi2213</text><text transform="scale(1.00,1)" x="402.9 442.6 469.2 1478.9 1664.9 1757.7 1810.7 1943.2 2106.4 2132.9 2185.9 2331.7" y="2752.40">048o000o4484</text><text transform="scale(0.98,1)" x="712.6 1378.0" y="2752.40">7L</text><text transform="scale(1.38,1)" x="572.2 993.4 1348.2" y="2752.40">;;;</text><text transform="scale(1.26,1)" x="782.3 825.3" y="2752.40">tt</text><text transform="scale(0.90,1)" x="1327.7 1359.9" y="2752.40">RR</text><text transform="scale(0.92,1)" x="1390.8 1437.1" y="2752.40">BB</text><text transform="scale(1.14,1)" x="1146.8" y="2752.40">/</text><text transform="scale(0.80,1)" x="1931.2 1986.8" y="2752.40">()</text><text transform="scale(0.82,1)" x="2306.2" y="2752.40">E</text></g>
<g font-size="44.50" fill="#000" stroke="#000" stroke-width="0.34"><text transform="scale(0.90,1)" x="1153.6 1403.8 1512.4" y="2924.90">Rss</text><text transform="scale(1.02,1)" x="1044.2 1084.0 1125.4 1151.1 1199.4" y="2924.90">eeene</text><text transform="scale(1.24,1)" x="879.6" y="2924.90">f</text><text transform="scale(1.20,1)" x="942.9 1105.5" y="2924.90">rr</text><text transform="scale(0.94,1)" x="1277.2" y="2924.90">c</text><text transform="scale(1.26,1)" x="1019.3" y="2924.90">t</text><text transform="scale(0.84,1)" x="1549.5" y="2924.90">a</text><text transform="scale(0.80,1)" x="1681.2 1731.2" y="2924.90">()</text></g>
<g font-size="35.40" fill="#008000" stroke="#008000" stroke-width="0.27"><text transform="scale(0.84,1)" x="176.1 216.9 336.2 384.9 410.2" y="2979.00">SaPSS</text><text transform="scale(1.26,1)" x="133.8" y="2979.00">t</text><text transform="scale(1.20,1)" x="168.4" y="2979.00">r</text><text transform="scale(0.96,1)" x="225.7 269.6 312.2 443.2 498.5 577.2 666.1 710.4 777.1 853.2 875.6 1291.8 1313.7 1461.1 1483.4 1616.3 1759.9 1836.0 1858.3 2056.0 2078.4 2262.2 2284.5 2317.5" y="2979.00">1AA11211A1312131V1313131</text><text transform="scale(1.02,1)" x="232.8 530.8 844.3 980.0 1011.6 1364.0 1562.2 1593.7 1769.0 1800.5 1821.3 1976.1 2028.4 2170.1" y="2979.00">:-h.6..9.66.6.</text><text transform="scale(0.98,1)" x="383.6 1114.4 1347.5 1680.8 1852.6" y="2979.00">DD777</text><text transform="scale(0.90,1)" x="446.6 805.3 1170.5 2112.3" y="2979.00">RRsR</text><text transform="scale(1.00,1)" x="446.5 499.6 520.9 575.5 596.7 660.5 903.8 957.6 978.9 1349.3 1370.5 1572.7 1604.6 2026.7 2048.0 2111.6 2245.8 2267.1" y="2979.00">000400840044444I44</text><text transform="scale(0.94,1)" x="657.9 939.4 1075.7 1382.6" y="2979.00">5555</text><text transform="scale(1.38,1)" x="507.5 774.0 1054.2 1207.1 1359.9 1513.0" y="2979.00">;;;;;;</text><text transform="scale(1.22,1)" x="640.0 962.3 993.9 1240.5 1413.4 1586.5 1748.7" y="2979.00">==+====</text><text transform="scale(1.08,1)" x="856.2" y="2979.00">m</text><text transform="scale(0.82,1)" x="1363.9" y="2979.00">E</text><text transform="scale(0.88,1)" x="1294.2" y="2979.00">C</text><text transform="scale(1.04,1)" x="1233.3" y="2979.00">°</text><text transform="scale(1.36,1)" x="985.0" y="2979.00">′</text><text transform="scale(1.06,1)" x="1361.5" y="2979.00">″</text><text transform="scale(0.92,1)" x="1607.7" y="2979.00">B</text></g>
<g font-size="44.17" fill="#000" stroke="#000" stroke-width="0.33"><text transform="scale(0.88,1)" x="1257.2" y="3099.20">C</text><text transform="scale(1.02,1)" x="1113.6 1139.2" y="3099.20">he</text><text transform="scale(0.94,1)" x="1263.7" y="3099.20">c</text><text transform="scale(1.06,1)" x="1142.2" y="3099.20">k</text><text transform="scale(0.90,1)" x="1387.5" y="3099.20">s</text><text transform="scale(1.26,1)" x="1007.6" y="3099.20">t</text><text transform="scale(0.84,1)" x="1531.7" y="3099.20">a</text><text transform="scale(1.20,1)" x="1092.9" y="3099.20">r</text></g>
<g font-size="35.41" fill="#008000" stroke="#008000" stroke-width="0.27"><text transform="scale(0.84,1)" x="47.0 87.8 655.0 746.3" y="3152.30">SaSa</text><text transform="scale(1.26,1)" x="47.7" y="3152.30">t</text><text transform="scale(1.20,1)" x="78.0" y="3152.30">r</text><text transform="scale(0.96,1)" x="112.4 156.6 378.5 502.1 526.9 548.5 717.9 779.1 801.2 890.1 966.2 988.6 1110.5 1166.3 1404.9 1426.8 1488.5 1518.6 1540.7 1729.5 1751.4 1806.7 1829.4 1873.2 1949.2 1971.4 2026.7 2049.1 2169.3 2191.5 2268.7 2375.5 2397.7 2453.0" y="3152.30">2AVAAVl11A1323122221223V1113112111</text><text transform="scale(1.02,1)" x="126.5 301.6 376.7 634.6 655.0 950.6 1086.4 1118.0 1470.5 1481.1 1668.7 1679.5 1875.5 2082.7 2276.7" y="3152.30">:--beh.6.9.6...</text><text transform="scale(0.92,1)" x="188.7 346.8 371.7 1725.8" y="3152.30">UBBB</text><text transform="scale(1.00,1)" x="197.6 244.6 265.9 287.1 397.0 418.3 439.6 790.2 1012.3 1532.3 1924.2 2135.5 2156.7 2220.4 2333.4" y="3152.30">I000088880840I0</text><text transform="scale(0.98,1)" x="212.1 620.2 1109.7 1225.2" y="3152.30">DL7D</text><text transform="scale(1.38,1)" x="332.1 586.1 852.6 1132.9 1285.8 1438.7 1591.8" y="3152.30">;;;;;;;</text><text transform="scale(0.94,1)" x="607.2 1054.8 1498.1 2528.1" y="3152.30">O555</text><text transform="scale(1.22,1)" x="581.7 728.9 1051.2 1082.9 1329.6 1502.5 1675.7 1837.9" y="3152.30">===+====</text><text transform="scale(0.90,1)" x="925.8 1291.1 2233.1" y="3152.30">RsR</text><text transform="scale(1.08,1)" x="956.7" y="3152.30">m</text><text transform="scale(0.82,1)" x="1496.2" y="3152.30">E</text><text transform="scale(0.88,1)" x="1417.5" y="3152.30">C</text><text transform="scale(1.04,1)" x="1337.8" y="3152.30">°</text><text transform="scale(1.36,1)" x="1064.8" y="3152.30">′</text><text transform="scale(1.06,1)" x="1464.0" y="3152.30">″</text></g>
<g font-size="44.39" fill="#000" stroke="#000" stroke-width="0.34"><text transform="scale(0.88,1)" x="1230.2" y="3270.90">C</text><text transform="scale(1.00,1)" x="1112.0" y="3270.90">o</text><text transform="scale(1.08,1)" x="1053.4" y="3270.90">m</text><text transform="scale(1.02,1)" x="1155.8" y="3270.90">p</text><text transform="scale(0.90,1)" x="1354.5 1462.8" y="3270.90">ss</text><text transform="scale(1.26,1)" x="984.1" y="3270.90">t</text><text transform="scale(0.84,1)" x="1496.6" y="3270.90">a</text><text transform="scale(1.20,1)" x="1068.4" y="3270.90">r</text><text transform="scale(0.80,1)" x="1625.5 1675.4" y="3270.90">()</text></g>
<g font-size="35.40" fill="#008000" stroke="#008000" stroke-width="0.27"><text transform="scale(0.84,1)" x="41.0 81.8 662.0 753.3" y="3326.20">SaSa</text><text transform="scale(1.26,1)" x="43.7" y="3326.20">t</text><text transform="scale(1.20,1)" x="73.9" y="3326.20">r</text><text transform="scale(0.96,1)" x="107.6 151.4 508.3 533.0 554.6 724.0 785.1 807.0 896.2 972.2 994.6 1410.8 1432.7 1735.3 1757.7 1790.9 1834.9 1878.9 1955.0 1976.8 2175.0 2196.9 2252.5 2274.9 2381.1 2403.0 2436.2" y="3326.20">3AAAVl12A13121331V121213122</text><text transform="scale(1.02,1)" x="121.6 296.6 382.5 640.4 660.7 956.3 1071.4 1092.0 1406.2 1476.0 1674.2 1705.7 1880.9 2088.0 2282.0" y="3326.20">:--beh9.9..6...</text><text transform="scale(0.92,1)" x="183.2 341.3 1731.9" y="3326.20">UBB</text><text transform="scale(1.00,1)" x="192.6 239.5 260.8 282.1 403.0 424.2 445.5 796.0 1018.0 1125.0 1146.2 1484.8 1537.9 1929.7 1950.9 2225.8 2360.0 2381.3" y="3326.20">I00084488088080I08</text><text transform="scale(0.98,1)" x="207.0 626.2 1231.0 2012.6" y="3326.20">DLD7</text><text transform="scale(0.94,1)" x="358.4 389.0 613.4 1060.9 1140.7 1504.1 1557.4 1613.9 2278.1" y="3326.20">MNO555555</text><text transform="scale(1.38,1)" x="336.3 590.3 856.7 1137.0 1289.8 1442.6 1595.7" y="3326.20">;;;;;;;</text><text transform="scale(1.22,1)" x="586.5 733.7 1055.9 1087.5 1334.2 1507.0 1680.1 1842.3" y="3326.20">===+====</text><text transform="scale(0.90,1)" x="932.3 1297.4 2239.2" y="3326.20">RsR</text><text transform="scale(1.08,1)" x="962.0" y="3326.20">m</text><text transform="scale(0.82,1)" x="1503.2" y="3326.20">E</text><text transform="scale(0.88,1)" x="1424.0" y="3326.20">C</text><text transform="scale(1.04,1)" x="1343.2" y="3326.20">°</text><text transform="scale(1.36,1)" x="1069.0" y="3326.20">′</text><text transform="scale(1.06,1)" x="1469.3" y="3326.20">″</text></g>
<g font-size="35.45" fill="#008000" stroke="#008000" stroke-width="0.27"><text transform="scale(0.84,1)" x="1076.0 1116.9 1170.3 1698.1" y="3499.40">Saaa</text><text transform="scale(1.26,1)" x="733.7 840.1" y="3499.40">tt</text><text transform="scale(1.20,1)" x="798.4 870.7 910.7 1205.3" y="3499.40">rrrr</text><text transform="scale(1.02,1)" x="983.8 1004.2 1050.9 1084.2 1104.7 1178.5 1226.4 1335.3 1465.9" y="3499.40">peue:pe.e</text><text transform="scale(0.96,1)" x="1197.0 1274.4 1325.1 1375.2 1397.6" y="3499.40">1il13</text><text transform="scale(0.94,1)" x="1245.4 1483.9 1552.7 1612.7" y="3499.40">55cc</text><text transform="scale(1.04,1)" x="1185.0" y="3499.40">x</text><text transform="scale(0.90,1)" x="1423.8 1642.7" y="3499.40">ss</text><text transform="scale(1.38,1)" x="939.2" y="3499.40">,</text><text transform="scale(1.00,1)" x="1373.1" y="3499.40">4</text></g>
<g font-size="26.55" fill="#000" stroke="#000" stroke-width="0.20"><text transform="scale(1.02,1)" x="587.9 596.8 605.7 646.3 674.4 714.4 754.3 770.0 798.9 814.1 874.2 889.8 904.8 917.2 945.1 983.7 1029.1 1052.5 1127.2 1183.0 1234.3 1264.1 1287.5 1311.0 1318.9 1456.0 1485.7 1568.2 1594.7 1773.3 1782.2 1791.1" y="3613.10">---eupduedh:Tyhv..hnv...9v..u---</text><text transform="scale(0.90,1)" x="714.7 750.2 1358.6 1825.3" y="3613.10">Rsss</text><text transform="scale(0.96,1)" x="733.4 890.6 911.6 1060.7 1077.1 1127.1 1327.0 1505.2 1562.7 1614.8 1759.7 1792.9" y="3613.10">lwi1211l3©22</text><text transform="scale(1.26,1)" x="563.9 699.7 1164.1" y="3613.10">ttt</text><text transform="scale(1.20,1)" x="620.2 983.9 1392.2" y="3613.10">rrr</text><text transform="scale(1.00,1)" x="754.1 979.7 1165.4 1235.4 1297.7 1451.6 1523.8 1705.3 1761.6 1777.5" y="3613.10">oooo0o4004</text><text transform="scale(0.94,1)" x="852.4 1010.8 1125.9 1710.4 1848.4" y="3613.10">cc5H5</text><text transform="scale(1.22,1)" x="906.8 1122.8" y="3613.10">&gt;&gt;</text><text transform="scale(0.84,1)" x="1350.9 1418.3 1702.2 1971.2" y="3613.10">PaPa</text><text transform="scale(0.98,1)" x="1348.7 1426.6 1612.7" y="3613.10">7LD</text><text transform="scale(0.88,1)" x="1604.5" y="3613.10">C</text><text transform="scale(1.14,1)" x="1537.3" y="3613.10">/</text></g>
<g font-size="34.87" fill="#000" stroke="#000" stroke-width="0.26"><text transform="scale(0.76,1)" x="1354.5 1653.3" y="1376.20">JJ</text><text transform="scale(1.02,1)" x="1022.6 1080.9 1168.6 1371.4" y="1376.20">une6</text><text transform="scale(0.96,1)" x="1108.7 1118.2 1413.6 1522.7 1544.8" y="1376.20">li221</text><text transform="scale(0.84,1)" x="1288.8 1380.2" y="1376.20">aa</text><text transform="scale(0.98,1)" x="1156.8 1296.0" y="1376.20">DD</text><text transform="scale(1.26,1)" x="935.7" y="1376.20">t</text><text transform="scale(0.80,1)" x="1529.3 1621.8" y="1376.20">()</text><text transform="scale(0.94,1)" x="1314.6" y="1376.20">H</text><text transform="scale(1.22,1)" x="1081.7" y="1376.20">+</text><text transform="scale(1.00,1)" x="1378.1 1419.9 1440.9" y="1376.20">408</text></g>
<g font-size="21.60" fill="#000" stroke="#000" stroke-width="0.16"><text transform="scale(1.22,1)" x="1866.6" y="1366.90">+</text><text transform="scale(0.96,1)" x="2389.5 2463.8 2477.5" y="1366.90">221</text><text transform="scale(1.02,1)" x="2261.4 2280.7 2344.1 2356.5" y="1366.90">.6e6</text><text transform="scale(1.00,1)" x="2313.4 2339.4 2352.3" y="1366.90">408</text></g>
<rect x="2.5" y="2.5" width="2431" height="3647" fill="none" stroke="#006400" stroke-width="5"/>
</svg></body></html>
